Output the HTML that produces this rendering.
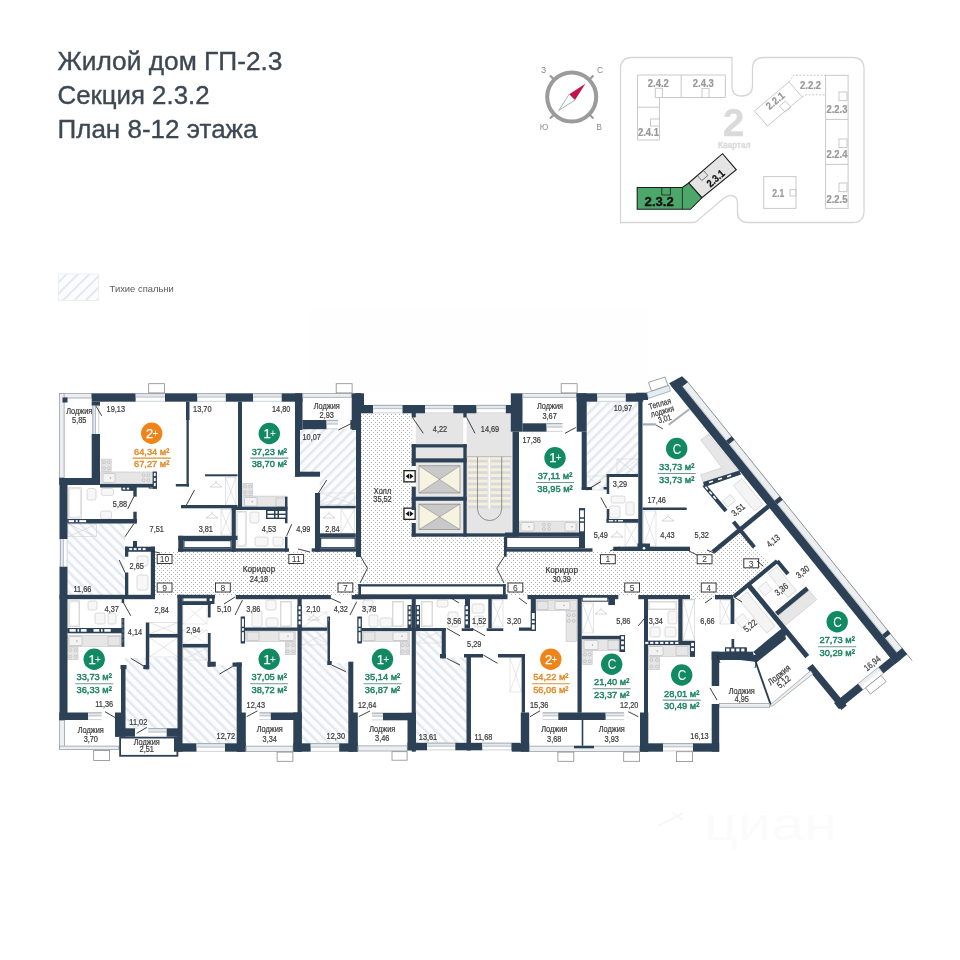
<!DOCTYPE html>
<html><head><meta charset="utf-8"><style>
html,body{margin:0;padding:0;background:#fff;}
body{width:960px;height:960px;overflow:hidden;position:relative;font-family:"Liberation Sans",sans-serif;}
svg{position:absolute;left:0;top:0;will-change:transform;}
.t{font-family:"Liberation Sans",sans-serif;}
</style></head><body>
<svg width="960" height="960" viewBox="0 0 960 960">
<defs>
<pattern id="hatch" patternUnits="userSpaceOnUse" width="8" height="8" patternTransform="rotate(45)">
<rect width="8" height="8" fill="#fbfcfd"/><rect width="2" height="8" fill="#e4e8ec"/>
</pattern>
<pattern id="hatchA" patternUnits="userSpaceOnUse" width="7" height="7" patternTransform="rotate(45)">
<rect width="7" height="7" fill="#fbfcfd"/><rect width="2.4" height="7" fill="#e4e8ed"/>
</pattern>
<pattern id="hatchB" patternUnits="userSpaceOnUse" width="7" height="7" patternTransform="rotate(-45)">
<rect width="7" height="7" fill="#fbfcfd"/><rect width="2.4" height="7" fill="#e4e8ed"/>
</pattern>
<pattern id="dots" patternUnits="userSpaceOnUse" width="4" height="4">
<rect width="4" height="4" fill="#fff"/><rect x="1" y="0" width="1" height="1" fill="#b4b4b4"/><rect x="3" y="2" width="1" height="1" fill="#b4b4b4"/>
</pattern>
</defs>
<!-- title -->
<g class="t" fill="#3d4853" stroke="#3d4853" stroke-width="0.35" font-size="25">
<text x="57.5" y="70" textLength="225" lengthAdjust="spacingAndGlyphs">Жилой дом ГП-2.3</text>
<text x="57.5" y="104" textLength="152" lengthAdjust="spacingAndGlyphs">Секция 2.3.2</text>
<text x="57.5" y="137.5" textLength="200" lengthAdjust="spacingAndGlyphs">План 8-12 этажа</text>
</g>
<!-- legend -->
<rect x="58.3" y="274" width="40.4" height="26.5" fill="url(#hatch)" stroke="#e8ecef" stroke-width="0.8"/>
<text class="t" x="109.6" y="292.3" font-size="9.6" fill="#5a5a5a" textLength="64.2" lengthAdjust="spacingAndGlyphs">Тихие спальни</text>
<!-- compass -->
<g>
<circle cx="571.7" cy="97" r="24.5" fill="none" stroke="#9b9b9b" stroke-width="4"/>
<g stroke="#9b9b9b" stroke-width="2.2">
<line x1="550" y1="75.5" x2="553.5" y2="79"/><line x1="593.4" y1="75.5" x2="589.9" y2="79"/>
<line x1="550" y1="118.5" x2="553.5" y2="115"/><line x1="593.4" y1="118.5" x2="589.9" y2="115"/>
</g>
<polygon points="585.4,83.75 569.2,94.2 575,100" fill="#c8104a"/>
<polygon points="569.2,94.2 575,100 558.75,110.4" fill="#fff" stroke="#8a9a9a" stroke-width="0.8"/>
<g class="t" font-size="8.5" fill="#8c8c8c" text-anchor="middle">
<text x="543.5" y="73">З</text><text x="600" y="73">С</text><text x="544" y="130">Ю</text><text x="599" y="129.5">В</text>
</g>
</g>
<!-- minimap -->
<g fill="none" stroke="#d6d6d6" stroke-width="1.3">
<path d="M620.5,69 Q620.5,57.5 632,57.5 L732,57.5 L732,86 Q732,96 741,96 Q752.5,96 752.5,86 L752.5,69 Q752.5,57.5 764,57.5 L853,57.5 Q864,57.5 864,69 L864,211 Q864,222.5 853,222.5 L748,222.5 Q737.5,222.5 737.5,212 L737.5,203 Q737.5,195.5 730.5,195.5 Q727,195.5 724,198 L697,221 Q695.5,222.5 693,222.5 L620.5,222.5 Z"/>
</g>
<g fill="none" stroke="#c9c9c9" stroke-width="1">
<path d="M637.5,75 L725.3,75 L725.3,97.5 L659.5,97.5 L659.5,140 L637.5,140 Z"/>
<path d="M681.2,75 V97.5 M637.5,107.2 H659.5"/>
<rect x="655.3" y="88.3" width="7.1" height="9.2"/><rect x="702" y="88.4" width="7" height="9.1"/><rect x="650.5" y="119" width="9" height="7"/>
<polygon points="754.4,111 789,82 802.2,96.9 767.5,126" fill="#fff"/>
<polygon points="779.5,106 785.5,101 791,107 785,112"/>
<rect x="825.6" y="75.3" width="22.5" height="133.1"/>
<path d="M825.6,119.4 H848.1 M825.6,164.4 H848.1"/>
<rect x="839" y="92" width="8" height="8.6"/><rect x="839" y="139" width="8" height="8.5"/><rect x="839" y="183" width="8" height="8.6"/>
<rect x="763.75" y="176.6" width="32.25" height="31.8"/>
<rect x="790" y="189.7" width="6" height="6.3"/>
<path d="M789,82 L793.75,75.3 H825.6 M802.2,96.9 L806,94.8 H825.6" stroke-dasharray="2,1.5"/>
</g>
<g class="t" font-weight="bold" fill="#989898" stroke="#989898" stroke-width="0.22" font-size="10.5" text-anchor="middle">
<text x="658.3" y="86.7" textLength="21" lengthAdjust="spacingAndGlyphs">2.4.2</text>
<text x="703.3" y="86.7" textLength="21" lengthAdjust="spacingAndGlyphs">2.4.3</text>
<text x="648.4" y="136.3" textLength="21" lengthAdjust="spacingAndGlyphs">2.4.1</text>
<text x="810.6" y="88.5" textLength="21" lengthAdjust="spacingAndGlyphs">2.2.2</text>
<text x="836.9" y="113.4" textLength="21" lengthAdjust="spacingAndGlyphs">2.2.3</text>
<text x="836.9" y="158.4" textLength="21" lengthAdjust="spacingAndGlyphs">2.2.4</text>
<text x="836.9" y="202.8" textLength="21" lengthAdjust="spacingAndGlyphs">2.2.5</text>
<text x="778.3" y="196.8" textLength="12" lengthAdjust="spacingAndGlyphs">2.1</text>
<text transform="translate(775,100.6) rotate(-40)" y="3.8" textLength="21" lengthAdjust="spacingAndGlyphs">2.2.1</text>
</g>
<g class="t" font-weight="bold" fill="#dadada" stroke="#dadada" stroke-width="0.3" text-anchor="middle">
<text x="733.7" y="136" font-size="39">2</text>
<text x="734.3" y="147.6" font-size="8.2" textLength="32.5" lengthAdjust="spacingAndGlyphs">Квартал</text>
</g>
<polygon points="688.7,183 722.5,153.7 736.3,169.8 701.9,197.8" fill="#e4e4e4" stroke="#1e1e1e" stroke-width="1.1"/>
<polygon points="697.4,175.7 703.5,170.5 707.8,175.5 701.9,180.5" fill="none" stroke="#444" stroke-width="0.7"/>
<polygon points="637.2,187.5 682.4,187.5 688.7,183 701.9,197.8 690.4,209.3 637.2,209.3" fill="#4da66a" stroke="#1e1e1e" stroke-width="1.1"/>
<path d="M682.4,187.5 V209.3 M661.8,187.5 V195 H670.4 V187.5" fill="none" stroke="#1e1e1e" stroke-width="0.8"/>
<text class="t" x="659.2" y="205.9" font-size="12.8" font-weight="bold" fill="#111" stroke="#111" stroke-width="0.35" text-anchor="middle" textLength="29.2" lengthAdjust="spacingAndGlyphs">2.3.2</text>
<text class="t" transform="translate(715.6,178.4) rotate(-41)" y="3.6" font-size="10.5" font-weight="bold" fill="#111" stroke="#111" stroke-width="0.25" text-anchor="middle" textLength="20" lengthAdjust="spacingAndGlyphs">2.3.1</text>
<rect x="309.0" y="309.0" width="340.0" height="83.0" fill="#fefefe" />
<rect x="300.0" y="429.0" width="56.0" height="47.0" fill="url(#hatchA)" />
<rect x="319.6" y="475.0" width="36.4" height="31.0" fill="url(#hatchA)" />
<rect x="586.7" y="401.7" width="51.6" height="72.8" fill="url(#hatchA)" />
<rect x="586.7" y="474.0" width="20.0" height="16.0" fill="url(#hatchA)" />
<rect x="67.5" y="523.0" width="57.5" height="72.0" fill="url(#hatchB)" />
<rect x="125.0" y="658.0" width="53.0" height="71.0" fill="url(#hatchB)" />
<rect x="182.5" y="647.5" width="27.5" height="95.5" fill="url(#hatchB)" />
<rect x="209.0" y="665.0" width="29.0" height="78.0" fill="url(#hatchB)" />
<rect x="301.7" y="631.0" width="28.3" height="112.0" fill="url(#hatchB)" />
<rect x="329.0" y="663.0" width="20.0" height="80.0" fill="url(#hatchB)" />
<rect x="415.8" y="631.0" width="25.9" height="27.0" fill="url(#hatchB)" />
<rect x="415.8" y="657.5" width="50.9" height="85.5" fill="url(#hatchB)" />
<rect x="155.0" y="551.7" width="203.3" height="43.3" fill="url(#dots)" />
<rect x="360.8" y="413.3" width="50.9" height="170.9" fill="url(#dots)" />
<rect x="360.8" y="536.7" width="144.2" height="47.5" fill="url(#dots)" />
<rect x="505.0" y="551.7" width="237.0" height="43.3" fill="url(#dots)" />
<polygon points="690.0,551.0 712.0,551.0 740.0,532.0 770.0,563.0 742.0,595.0 690.0,595.0" fill="url(#dots)" />
<rect x="415.8" y="413.3" width="47.5" height="30.9" fill="#e5e5e5" />
<rect x="466.7" y="413.3" width="45.0" height="120.0" fill="#e5e5e5" />
<rect x="415.8" y="447.5" width="47.5" height="10.8" fill="#e5e5e5" />
<rect x="468.0" y="456.9" width="19.5" height="2.9" fill="#f4f0dc" />
<rect x="491.0" y="456.9" width="19.5" height="2.9" fill="#f4f0dc" />
<rect x="468.0" y="459.8" width="19.5" height="2.8" fill="#d9d9d9" />
<rect x="491.0" y="459.8" width="19.5" height="2.8" fill="#d9d9d9" />
<rect x="468.0" y="462.6" width="19.5" height="2.9" fill="#f4f0dc" />
<rect x="491.0" y="462.6" width="19.5" height="2.9" fill="#f4f0dc" />
<rect x="468.0" y="465.5" width="19.5" height="2.8" fill="#d9d9d9" />
<rect x="491.0" y="465.5" width="19.5" height="2.8" fill="#d9d9d9" />
<rect x="468.0" y="468.4" width="19.5" height="2.9" fill="#f4f0dc" />
<rect x="491.0" y="468.4" width="19.5" height="2.9" fill="#f4f0dc" />
<rect x="468.0" y="471.3" width="19.5" height="2.8" fill="#d9d9d9" />
<rect x="491.0" y="471.3" width="19.5" height="2.8" fill="#d9d9d9" />
<rect x="468.0" y="474.1" width="19.5" height="2.9" fill="#f4f0dc" />
<rect x="491.0" y="474.1" width="19.5" height="2.9" fill="#f4f0dc" />
<rect x="468.0" y="477.0" width="19.5" height="2.8" fill="#d9d9d9" />
<rect x="491.0" y="477.0" width="19.5" height="2.8" fill="#d9d9d9" />
<rect x="468.0" y="479.8" width="19.5" height="2.9" fill="#f4f0dc" />
<rect x="491.0" y="479.8" width="19.5" height="2.9" fill="#f4f0dc" />
<rect x="468.0" y="482.7" width="19.5" height="2.8" fill="#d9d9d9" />
<rect x="491.0" y="482.7" width="19.5" height="2.8" fill="#d9d9d9" />
<rect x="468.0" y="485.5" width="19.5" height="2.9" fill="#f4f0dc" />
<rect x="491.0" y="485.5" width="19.5" height="2.9" fill="#f4f0dc" />
<rect x="468.0" y="488.4" width="19.5" height="2.8" fill="#d9d9d9" />
<rect x="491.0" y="488.4" width="19.5" height="2.8" fill="#d9d9d9" />
<rect x="468.0" y="491.3" width="19.5" height="2.9" fill="#f4f0dc" />
<rect x="491.0" y="491.3" width="19.5" height="2.9" fill="#f4f0dc" />
<rect x="468.0" y="494.2" width="19.5" height="2.8" fill="#d9d9d9" />
<rect x="491.0" y="494.2" width="19.5" height="2.8" fill="#d9d9d9" />
<rect x="468.0" y="497.0" width="19.5" height="2.9" fill="#f4f0dc" />
<rect x="491.0" y="497.0" width="19.5" height="2.9" fill="#f4f0dc" />
<rect x="468.0" y="499.9" width="19.5" height="2.8" fill="#d9d9d9" />
<rect x="491.0" y="499.9" width="19.5" height="2.8" fill="#d9d9d9" />
<rect x="468.0" y="502.7" width="19.5" height="2.9" fill="#f4f0dc" />
<rect x="491.0" y="502.7" width="19.5" height="2.9" fill="#f4f0dc" />
<rect x="468.0" y="505.6" width="19.5" height="2.8" fill="#d9d9d9" />
<rect x="491.0" y="505.6" width="19.5" height="2.8" fill="#d9d9d9" />
<line x1="489.2" y1="456.7" x2="489.2" y2="508.5" stroke="#fff" stroke-width="1.2" />
<line x1="477.5" y1="456.7" x2="477.5" y2="508.5" stroke="#555" stroke-width="0.6" />
<line x1="501.7" y1="456.7" x2="501.7" y2="508.5" stroke="#555" stroke-width="0.6" />
<path d="M477.5,508.5 A12.1,12.1 0 0 0 501.7,508.5" fill="none" stroke="#555" stroke-width="0.6"/>
<line x1="466.7" y1="456.7" x2="511.7" y2="456.7" stroke="#999" stroke-width="0.6" />
<rect x="415.8" y="462.5" width="47.5" height="34.2" fill="#e8e8e8" />
<polygon points="419.0,465.8 460.0,465.8 439.5,479.4" fill="#c9c9c9" />
<polygon points="419.0,493.0 460.0,493.0 439.5,479.4" fill="#c9c9c9" />
<polygon points="419.0,465.8 419.0,493.0 439.5,479.4" fill="#f6f3e0" />
<polygon points="460.0,465.8 460.0,493.0 439.5,479.4" fill="#f6f3e0" />
<rect x="419" y="465.8" width="41" height="27.19999999999999" fill="none" stroke="#777" stroke-width="0.6"/>
<line x1="419.0" y1="465.8" x2="460.0" y2="493.0" stroke="#777" stroke-width="0.5" />
<line x1="419.0" y1="493.0" x2="460.0" y2="465.8" stroke="#777" stroke-width="0.5" />
<rect x="415.8" y="500.8" width="47.5" height="32.5" fill="#e8e8e8" />
<polygon points="419.0,504.1 460.0,504.1 439.5,516.8" fill="#c9c9c9" />
<polygon points="419.0,529.6 460.0,529.6 439.5,516.8" fill="#c9c9c9" />
<polygon points="419.0,504.1 419.0,529.6 439.5,516.8" fill="#f6f3e0" />
<polygon points="460.0,504.1 460.0,529.6 439.5,516.8" fill="#f6f3e0" />
<rect x="419" y="504.1" width="41" height="25.499999999999886" fill="none" stroke="#777" stroke-width="0.6"/>
<line x1="419.0" y1="504.1" x2="460.0" y2="529.6" stroke="#777" stroke-width="0.5" />
<line x1="419.0" y1="529.6" x2="460.0" y2="504.1" stroke="#777" stroke-width="0.5" />
<rect x="403.95" y="470.65" width="11.20" height="11.20" fill="#fff" stroke="#222" stroke-width="1.3"/>
<polygon points="405.6,476.2 409.2,473.4 409.2,479.1" fill="#111" />
<polygon points="413.5,476.2 409.9,473.4 409.9,479.1" fill="#111" />
<rect x="403.95" y="508.15" width="11.20" height="11.20" fill="#fff" stroke="#222" stroke-width="1.3"/>
<polygon points="405.6,513.8 409.2,510.9 409.2,516.6" fill="#111" />
<polygon points="413.5,513.8 409.9,510.9 409.9,516.6" fill="#111" />
<rect x="101.60" y="459.10" width="9.60" height="12.30" fill="#e6e6e6" stroke="#c4c4c4" stroke-width="0.6"/>
<rect x="100.90" y="472.00" width="52.20" height="11.70" fill="#e6e6e6" stroke="#c4c4c4" stroke-width="0.6"/>
<rect x="153.30" y="472.20" width="3.00" height="15.90" fill="#fff" stroke="#2d4156" stroke-width="1"/>
<rect x="149.20" y="485.00" width="7.10" height="3.10" fill="#fff" stroke="#2d4156" stroke-width="1"/>
<rect x="68.40" y="487.80" width="13.00" height="30.30" fill="#f2f2f2" stroke="#c8c8c8" stroke-width="0.6"/>
<rect x="69.3" y="488.7" width="11.2" height="28.5" rx="2.5" fill="#fff" stroke="#d0d0d0" stroke-width="0.5"/>
<rect x="87.0" y="488.5" width="9.0" height="11.5" rx="2" fill="#f7f7f7" stroke="#c8c8c8" stroke-width="0.6"/>
<rect x="101.3" y="488.5" width="12.2" height="6.9" rx="2" fill="#f7f7f7" stroke="#c8c8c8" stroke-width="0.6"/>
<rect x="100.6" y="511.0" width="10.9" height="8.0" rx="2" fill="#f7f7f7" stroke="#c8c8c8" stroke-width="0.6"/>
<rect x="122.10" y="487.10" width="11.20" height="3.00" fill="#fff" stroke="#2d4156" stroke-width="1"/>
<rect x="68.0" y="524.0" width="28.6" height="12.7" fill="none" stroke="#c9c9c9" stroke-width="0.5"/>
<line x1="68.0" y1="524.0" x2="96.6" y2="536.7" stroke="#c9c9c9" stroke-width="0.5" />
<line x1="68.0" y1="536.7" x2="96.6" y2="524.0" stroke="#c9c9c9" stroke-width="0.5" />
<rect x="137.0" y="556.0" width="11.0" height="10.0" rx="2" fill="#f7f7f7" stroke="#c8c8c8" stroke-width="0.6"/>
<rect x="137.0" y="575.0" width="11.0" height="15.0" rx="2" fill="#f7f7f7" stroke="#c8c8c8" stroke-width="0.6"/>
<rect x="205.0" y="474.3" width="32.5" height="2.0" fill="#2d4156" />
<rect x="225.5" y="477.5" width="10.5" height="27.5" fill="none" stroke="#c9c9c9" stroke-width="0.5"/>
<line x1="225.5" y1="477.5" x2="236.0" y2="505.0" stroke="#c9c9c9" stroke-width="0.5" />
<line x1="225.5" y1="505.0" x2="236.0" y2="477.5" stroke="#c9c9c9" stroke-width="0.5" />
<path d="M210.0,487.0 L216.0,482.5 L222.0,487.0 Z M216.0,482.5 v-2" fill="none" stroke="#bdbdbd" stroke-width="0.6"/>
<rect x="221.0" y="509.5" width="10.0" height="25.5" fill="none" stroke="#c9c9c9" stroke-width="0.5"/>
<line x1="221.0" y1="509.5" x2="231.0" y2="535.0" stroke="#c9c9c9" stroke-width="0.5" />
<line x1="221.0" y1="535.0" x2="231.0" y2="509.5" stroke="#c9c9c9" stroke-width="0.5" />
<path d="M206.0,518.0 L212.0,513.5 L218.0,518.0 Z M212.0,513.5 v-2" fill="none" stroke="#bdbdbd" stroke-width="0.6"/>
<rect x="242.80" y="483.30" width="9.90" height="12.20" fill="#e6e6e6" stroke="#c4c4c4" stroke-width="0.6"/>
<rect x="242.80" y="496.10" width="43.60" height="11.10" fill="#e6e6e6" stroke="#c4c4c4" stroke-width="0.6"/>
<rect x="236.80" y="511.30" width="9.40" height="34.90" fill="#f2f2f2" stroke="#c8c8c8" stroke-width="0.6"/>
<rect x="237.7" y="512.2" width="7.6" height="33.1" rx="2.5" fill="#fff" stroke="#d0d0d0" stroke-width="0.5"/>
<rect x="250.0" y="512.0" width="9.0" height="11.0" rx="2" fill="#f7f7f7" stroke="#c8c8c8" stroke-width="0.6"/>
<rect x="255.0" y="537.0" width="13.0" height="9.0" rx="2" fill="#f7f7f7" stroke="#c8c8c8" stroke-width="0.6"/>
<rect x="273.0" y="537.0" width="10.0" height="9.0" rx="2" fill="#f7f7f7" stroke="#c8c8c8" stroke-width="0.6"/>
<rect x="266.60" y="508.60" width="18.80" height="6.30" fill="#fff" stroke="#2d4156" stroke-width="1.2"/>
<rect x="266.0" y="510.8" width="20.0" height="1.4" fill="#2d4156" />
<rect x="341.0" y="509.0" width="13.5" height="24.0" fill="none" stroke="#c9c9c9" stroke-width="0.5"/>
<line x1="341.0" y1="509.0" x2="354.5" y2="533.0" stroke="#c9c9c9" stroke-width="0.5" />
<line x1="341.0" y1="533.0" x2="354.5" y2="509.0" stroke="#c9c9c9" stroke-width="0.5" />
<path d="M323.0,518.0 L329.0,513.5 L335.0,518.0 Z M329.0,513.5 v-2" fill="none" stroke="#bdbdbd" stroke-width="0.6"/>
<rect x="320.5" y="493.0" width="34.0" height="11.5" fill="none" stroke="#d3d3d3" stroke-width="0.5"/>
<line x1="320.5" y1="493.0" x2="354.5" y2="504.5" stroke="#d3d3d3" stroke-width="0.5" />
<line x1="320.5" y1="504.5" x2="354.5" y2="493.0" stroke="#d3d3d3" stroke-width="0.5" />
<rect x="519.50" y="521.10" width="58.50" height="11.10" fill="#e6e6e6" stroke="#c4c4c4" stroke-width="0.6"/>
<rect x="580.60" y="509.60" width="3.80" height="21.80" fill="#fff" stroke="#2d4156" stroke-width="1.2"/>
<rect x="611.0" y="496.0" width="14.0" height="7.0" rx="2" fill="#f7f7f7" stroke="#c8c8c8" stroke-width="0.6"/>
<rect x="626.0" y="502.0" width="8.0" height="13.0" rx="2" fill="#f7f7f7" stroke="#c8c8c8" stroke-width="0.6"/>
<rect x="609.5" y="506.0" width="10.5" height="12.0" rx="2" fill="#f7f7f7" stroke="#c8c8c8" stroke-width="0.6"/>
<rect x="617.0" y="459.0" width="21.0" height="16.0" fill="none" stroke="#c9c9c9" stroke-width="0.5"/>
<line x1="617.0" y1="459.0" x2="638.0" y2="475.0" stroke="#c9c9c9" stroke-width="0.5" />
<line x1="617.0" y1="475.0" x2="638.0" y2="459.0" stroke="#c9c9c9" stroke-width="0.5" />
<rect x="586.7" y="476.0" width="19.3" height="14.0" fill="none" stroke="#d3d3d3" stroke-width="0.5"/>
<line x1="586.7" y1="476.0" x2="606.0" y2="490.0" stroke="#d3d3d3" stroke-width="0.5" />
<line x1="586.7" y1="490.0" x2="606.0" y2="476.0" stroke="#d3d3d3" stroke-width="0.5" />
<rect x="625.0" y="523.0" width="13.0" height="23.5" fill="none" stroke="#c9c9c9" stroke-width="0.5"/>
<line x1="625.0" y1="523.0" x2="638.0" y2="546.5" stroke="#c9c9c9" stroke-width="0.5" />
<line x1="625.0" y1="546.5" x2="638.0" y2="523.0" stroke="#c9c9c9" stroke-width="0.5" />
<path d="M611.0,537.0 L617.0,532.5 L623.0,537.0 Z M617.0,532.5 v-2" fill="none" stroke="#bdbdbd" stroke-width="0.6"/>
<rect x="643.5" y="511.0" width="12.5" height="35.0" fill="none" stroke="#c9c9c9" stroke-width="0.5"/>
<line x1="643.5" y1="511.0" x2="656.0" y2="546.0" stroke="#c9c9c9" stroke-width="0.5" />
<line x1="643.5" y1="546.0" x2="656.0" y2="511.0" stroke="#c9c9c9" stroke-width="0.5" />
<path d="M662.0,521.0 L668.0,516.5 L674.0,521.0 Z M668.0,516.5 v-2" fill="none" stroke="#bdbdbd" stroke-width="0.6"/>
<rect x="68.80" y="600.80" width="10.90" height="25.90" fill="#f2f2f2" stroke="#c8c8c8" stroke-width="0.6"/>
<rect x="69.7" y="601.7" width="9.1" height="24.1" rx="2.5" fill="#fff" stroke="#d0d0d0" stroke-width="0.5"/>
<rect x="88.0" y="601.0" width="9.0" height="9.0" rx="2" fill="#f7f7f7" stroke="#c8c8c8" stroke-width="0.6"/>
<rect x="95.0" y="613.0" width="10.0" height="11.0" rx="2" fill="#f7f7f7" stroke="#c8c8c8" stroke-width="0.6"/>
<rect x="108.0" y="613.0" width="8.0" height="11.0" rx="2" fill="#f7f7f7" stroke="#c8c8c8" stroke-width="0.6"/>
<rect x="67.80" y="635.30" width="53.60" height="11.10" fill="#e6e6e6" stroke="#c4c4c4" stroke-width="0.6"/>
<rect x="67.80" y="647.00" width="10.20" height="12.70" fill="#e6e6e6" stroke="#c4c4c4" stroke-width="0.6"/>
<rect x="149.5" y="622.5" width="28.5" height="11.5" fill="none" stroke="#c9c9c9" stroke-width="0.5"/>
<line x1="149.5" y1="622.5" x2="178.0" y2="634.0" stroke="#c9c9c9" stroke-width="0.5" />
<line x1="149.5" y1="634.0" x2="178.0" y2="622.5" stroke="#c9c9c9" stroke-width="0.5" />
<rect x="149.5" y="637.5" width="28.5" height="19.5" fill="none" stroke="#c9c9c9" stroke-width="0.5"/>
<line x1="149.5" y1="637.5" x2="178.0" y2="657.0" stroke="#c9c9c9" stroke-width="0.5" />
<line x1="149.5" y1="657.0" x2="178.0" y2="637.5" stroke="#c9c9c9" stroke-width="0.5" />
<rect x="183.0" y="602.5" width="24.0" height="21.5" fill="none" stroke="#d3d3d3" stroke-width="0.5"/>
<line x1="183.0" y1="602.5" x2="207.0" y2="624.0" stroke="#d3d3d3" stroke-width="0.5" />
<line x1="183.0" y1="624.0" x2="207.0" y2="602.5" stroke="#d3d3d3" stroke-width="0.5" />
<rect x="183.0" y="630.0" width="24.0" height="13.5" fill="none" stroke="#d3d3d3" stroke-width="0.5"/>
<line x1="183.0" y1="630.0" x2="207.0" y2="643.5" stroke="#d3d3d3" stroke-width="0.5" />
<line x1="183.0" y1="643.5" x2="207.0" y2="630.0" stroke="#d3d3d3" stroke-width="0.5" />
<rect x="183.0" y="648.0" width="24.0" height="12.0" fill="none" stroke="#d3d3d3" stroke-width="0.5"/>
<line x1="183.0" y1="648.0" x2="207.0" y2="660.0" stroke="#d3d3d3" stroke-width="0.5" />
<line x1="183.0" y1="660.0" x2="207.0" y2="648.0" stroke="#d3d3d3" stroke-width="0.5" />
<rect x="266.0" y="600.0" width="10.0" height="10.0" rx="2" fill="#f7f7f7" stroke="#c8c8c8" stroke-width="0.6"/>
<rect x="280.30" y="601.30" width="11.40" height="25.40" fill="#f2f2f2" stroke="#c8c8c8" stroke-width="0.6"/>
<rect x="281.2" y="602.2" width="9.6" height="23.6" rx="2.5" fill="#fff" stroke="#d0d0d0" stroke-width="0.5"/>
<rect x="252.0" y="611.0" width="10.0" height="16.0" rx="2" fill="#f7f7f7" stroke="#c8c8c8" stroke-width="0.6"/>
<rect x="266.0" y="618.0" width="12.0" height="9.0" rx="2" fill="#f7f7f7" stroke="#c8c8c8" stroke-width="0.6"/>
<rect x="245.30" y="631.10" width="50.20" height="10.30" fill="#e6e6e6" stroke="#c4c4c4" stroke-width="0.6"/>
<rect x="285.30" y="642.00" width="10.20" height="12.70" fill="#e6e6e6" stroke="#c4c4c4" stroke-width="0.6"/>
<rect x="302.0" y="612.0" width="25.0" height="15.0" fill="none" stroke="#d3d3d3" stroke-width="0.5"/>
<line x1="302.0" y1="612.0" x2="327.0" y2="627.0" stroke="#d3d3d3" stroke-width="0.5" />
<line x1="302.0" y1="627.0" x2="327.0" y2="612.0" stroke="#d3d3d3" stroke-width="0.5" />
<path d="M307.5,620.0 L313.5,615.5 L319.5,620.0 Z M313.5,615.5 v-2" fill="none" stroke="#bdbdbd" stroke-width="0.6"/>
<rect x="302.0" y="631.0" width="28.0" height="14.0" fill="none" stroke="#d3d3d3" stroke-width="0.5"/>
<line x1="302.0" y1="631.0" x2="330.0" y2="645.0" stroke="#d3d3d3" stroke-width="0.5" />
<line x1="302.0" y1="645.0" x2="330.0" y2="631.0" stroke="#d3d3d3" stroke-width="0.5" />
<rect x="363.0" y="600.0" width="10.0" height="10.0" rx="2" fill="#f7f7f7" stroke="#c8c8c8" stroke-width="0.6"/>
<rect x="392.30" y="601.30" width="11.40" height="25.40" fill="#f2f2f2" stroke="#c8c8c8" stroke-width="0.6"/>
<rect x="393.2" y="602.2" width="9.6" height="23.6" rx="2.5" fill="#fff" stroke="#d0d0d0" stroke-width="0.5"/>
<rect x="369.0" y="615.0" width="9.0" height="12.0" rx="2" fill="#f7f7f7" stroke="#c8c8c8" stroke-width="0.6"/>
<rect x="380.0" y="618.0" width="12.0" height="9.0" rx="2" fill="#f7f7f7" stroke="#c8c8c8" stroke-width="0.6"/>
<rect x="362.00" y="631.30" width="47.70" height="10.10" fill="#e6e6e6" stroke="#c4c4c4" stroke-width="0.6"/>
<rect x="400.30" y="642.00" width="9.40" height="12.70" fill="#e6e6e6" stroke="#c4c4c4" stroke-width="0.6"/>
<rect x="421.30" y="601.30" width="11.40" height="25.40" fill="#f2f2f2" stroke="#c8c8c8" stroke-width="0.6"/>
<rect x="422.2" y="602.2" width="9.6" height="23.6" rx="2.5" fill="#fff" stroke="#d0d0d0" stroke-width="0.5"/>
<rect x="437.0" y="600.0" width="11.0" height="7.0" rx="2" fill="#f7f7f7" stroke="#c8c8c8" stroke-width="0.6"/>
<rect x="448.0" y="612.0" width="10.0" height="15.0" rx="2" fill="#f7f7f7" stroke="#c8c8c8" stroke-width="0.6"/>
<rect x="472.0" y="604.0" width="12.0" height="9.0" rx="2" fill="#f7f7f7" stroke="#c8c8c8" stroke-width="0.6"/>
<rect x="474.0" y="616.0" width="10.0" height="11.0" rx="2" fill="#f7f7f7" stroke="#c8c8c8" stroke-width="0.6"/>
<rect x="492.0" y="600.0" width="11.0" height="27.0" fill="none" stroke="#c9c9c9" stroke-width="0.5"/>
<line x1="492.0" y1="600.0" x2="503.0" y2="627.0" stroke="#c9c9c9" stroke-width="0.5" />
<line x1="492.0" y1="627.0" x2="503.0" y2="600.0" stroke="#c9c9c9" stroke-width="0.5" />
<rect x="416.0" y="631.0" width="25.0" height="12.0" fill="none" stroke="#d3d3d3" stroke-width="0.5"/>
<line x1="416.0" y1="631.0" x2="441.0" y2="643.0" stroke="#d3d3d3" stroke-width="0.5" />
<line x1="416.0" y1="643.0" x2="441.0" y2="631.0" stroke="#d3d3d3" stroke-width="0.5" />
<rect x="510.0" y="658.0" width="11.5" height="34.0" fill="none" stroke="#d3d3d3" stroke-width="0.5"/>
<line x1="510.0" y1="658.0" x2="521.5" y2="692.0" stroke="#d3d3d3" stroke-width="0.5" />
<line x1="510.0" y1="692.0" x2="521.5" y2="658.0" stroke="#d3d3d3" stroke-width="0.5" />
<rect x="535.30" y="600.30" width="41.10" height="10.20" fill="#e6e6e6" stroke="#c4c4c4" stroke-width="0.6"/>
<rect x="566.10" y="611.10" width="10.30" height="30.30" fill="#e6e6e6" stroke="#c4c4c4" stroke-width="0.6"/>
<rect x="531.60" y="612.60" width="3.60" height="16.80" fill="#fff" stroke="#2d4156" stroke-width="1.2"/>
<rect x="582.5" y="603.0" width="11.0" height="30.0" fill="none" stroke="#c9c9c9" stroke-width="0.5"/>
<line x1="582.5" y1="603.0" x2="593.5" y2="633.0" stroke="#c9c9c9" stroke-width="0.5" />
<line x1="582.5" y1="633.0" x2="593.5" y2="603.0" stroke="#c9c9c9" stroke-width="0.5" />
<path d="M595.0,614.0 L601.0,609.5 L607.0,614.0 Z M601.0,609.5 v-2" fill="none" stroke="#bdbdbd" stroke-width="0.6"/>
<rect x="582.80" y="639.50" width="36.90" height="11.00" fill="#e6e6e6" stroke="#c4c4c4" stroke-width="0.6"/>
<rect x="582.80" y="651.10" width="9.40" height="13.60" fill="#e6e6e6" stroke="#c4c4c4" stroke-width="0.6"/>
<rect x="620.10" y="636.10" width="4.30" height="15.30" fill="#fff" stroke="#2d4156" stroke-width="1.2"/>
<rect x="648.30" y="601.30" width="28.40" height="8.40" fill="#f2f2f2" stroke="#c8c8c8" stroke-width="0.6"/>
<rect x="649.2" y="602.2" width="26.6" height="6.6" rx="2.5" fill="#fff" stroke="#d0d0d0" stroke-width="0.5"/>
<rect x="668.0" y="611.0" width="9.0" height="13.0" rx="2" fill="#f7f7f7" stroke="#c8c8c8" stroke-width="0.6"/>
<rect x="650.0" y="627.0" width="10.0" height="10.0" rx="2" fill="#f7f7f7" stroke="#c8c8c8" stroke-width="0.6"/>
<rect x="665.0" y="627.0" width="11.0" height="10.0" rx="2" fill="#f7f7f7" stroke="#c8c8c8" stroke-width="0.6"/>
<rect x="683.0" y="600.0" width="11.5" height="40.0" fill="none" stroke="#c9c9c9" stroke-width="0.5"/>
<line x1="683.0" y1="600.0" x2="694.5" y2="640.0" stroke="#c9c9c9" stroke-width="0.5" />
<line x1="683.0" y1="640.0" x2="694.5" y2="600.0" stroke="#c9c9c9" stroke-width="0.5" />
<rect x="647.00" y="645.30" width="42.70" height="11.10" fill="#e6e6e6" stroke="#c4c4c4" stroke-width="0.6"/>
<rect x="648.60" y="657.00" width="11.10" height="12.70" fill="#e6e6e6" stroke="#c4c4c4" stroke-width="0.6"/>
<rect x="720.0" y="600.0" width="11.0" height="24.0" fill="none" stroke="#c9c9c9" stroke-width="0.5"/>
<line x1="720.0" y1="600.0" x2="731.0" y2="624.0" stroke="#c9c9c9" stroke-width="0.5" />
<line x1="720.0" y1="624.0" x2="731.0" y2="600.0" stroke="#c9c9c9" stroke-width="0.5" />
<circle cx="104.0" cy="462.2" r="1.5" fill="none" stroke="#a9a9a9" stroke-width="0.5"/>
<circle cx="104.0" cy="468.3" r="1.5" fill="none" stroke="#a9a9a9" stroke-width="0.5"/>
<circle cx="108.8" cy="462.2" r="1.5" fill="none" stroke="#a9a9a9" stroke-width="0.5"/>
<circle cx="108.8" cy="468.3" r="1.5" fill="none" stroke="#a9a9a9" stroke-width="0.5"/>
<rect x="103.0" y="473.5" width="12.0" height="9.0" rx="1" fill="#f3f3f3" stroke="#a9a9a9" stroke-width="0.5"/>
<circle cx="110.5" cy="478.0" r="0.7" fill="#999"/>
<circle cx="143.6" cy="475.2" r="1.5" fill="none" stroke="#a9a9a9" stroke-width="0.5"/>
<circle cx="143.6" cy="480.2" r="1.5" fill="none" stroke="#a9a9a9" stroke-width="0.5"/>
<circle cx="148.4" cy="475.2" r="1.5" fill="none" stroke="#a9a9a9" stroke-width="0.5"/>
<circle cx="148.4" cy="480.2" r="1.5" fill="none" stroke="#a9a9a9" stroke-width="0.5"/>
<circle cx="245.2" cy="486.4" r="1.5" fill="none" stroke="#a9a9a9" stroke-width="0.5"/>
<circle cx="245.2" cy="492.4" r="1.5" fill="none" stroke="#a9a9a9" stroke-width="0.5"/>
<circle cx="250.2" cy="486.4" r="1.5" fill="none" stroke="#a9a9a9" stroke-width="0.5"/>
<circle cx="250.2" cy="492.4" r="1.5" fill="none" stroke="#a9a9a9" stroke-width="0.5"/>
<rect x="244.5" y="497.5" width="12.5" height="8.5" rx="1" fill="#f3f3f3" stroke="#a9a9a9" stroke-width="0.5"/>
<circle cx="252.2" cy="501.8" r="0.7" fill="#999"/>
<rect x="276.0" y="498.0" width="10.0" height="8.5" fill="none" stroke="#b0b0b0" stroke-width="0.5"/>
<rect x="521.0" y="522.5" width="13.0" height="8.5" rx="1" fill="#f3f3f3" stroke="#a9a9a9" stroke-width="0.5"/>
<circle cx="529.0" cy="526.8" r="0.7" fill="#999"/>
<circle cx="543.9" cy="524.5" r="1.5" fill="none" stroke="#a9a9a9" stroke-width="0.5"/>
<circle cx="543.9" cy="529.0" r="1.5" fill="none" stroke="#a9a9a9" stroke-width="0.5"/>
<circle cx="549.1" cy="524.5" r="1.5" fill="none" stroke="#a9a9a9" stroke-width="0.5"/>
<circle cx="549.1" cy="529.0" r="1.5" fill="none" stroke="#a9a9a9" stroke-width="0.5"/>
<rect x="565.0" y="522.5" width="11.0" height="8.5" rx="1" fill="#f3f3f3" stroke="#a9a9a9" stroke-width="0.5"/>
<circle cx="572.0" cy="526.8" r="0.7" fill="#999"/>
<rect x="69.0" y="636.5" width="13.0" height="9.0" rx="1" fill="#f3f3f3" stroke="#a9a9a9" stroke-width="0.5"/>
<circle cx="77.0" cy="641.0" r="0.7" fill="#999"/>
<circle cx="70.3" cy="650.2" r="1.5" fill="none" stroke="#a9a9a9" stroke-width="0.5"/>
<circle cx="70.3" cy="656.5" r="1.5" fill="none" stroke="#a9a9a9" stroke-width="0.5"/>
<circle cx="75.5" cy="650.2" r="1.5" fill="none" stroke="#a9a9a9" stroke-width="0.5"/>
<circle cx="75.5" cy="656.5" r="1.5" fill="none" stroke="#a9a9a9" stroke-width="0.5"/>
<rect x="108.0" y="636.5" width="12.0" height="9.0" fill="none" stroke="#b0b0b0" stroke-width="0.5"/>
<rect x="279.0" y="632.0" width="15.0" height="8.5" rx="1" fill="#f3f3f3" stroke="#a9a9a9" stroke-width="0.5"/>
<circle cx="288.0" cy="636.2" r="0.7" fill="#999"/>
<circle cx="287.8" cy="645.2" r="1.5" fill="none" stroke="#a9a9a9" stroke-width="0.5"/>
<circle cx="287.8" cy="651.5" r="1.5" fill="none" stroke="#a9a9a9" stroke-width="0.5"/>
<circle cx="293.0" cy="645.2" r="1.5" fill="none" stroke="#a9a9a9" stroke-width="0.5"/>
<circle cx="293.0" cy="651.5" r="1.5" fill="none" stroke="#a9a9a9" stroke-width="0.5"/>
<rect x="247.0" y="632.0" width="12.0" height="8.5" fill="none" stroke="#b0b0b0" stroke-width="0.5"/>
<rect x="393.0" y="632.0" width="15.0" height="8.5" rx="1" fill="#f3f3f3" stroke="#a9a9a9" stroke-width="0.5"/>
<circle cx="402.0" cy="636.2" r="0.7" fill="#999"/>
<circle cx="402.6" cy="645.2" r="1.5" fill="none" stroke="#a9a9a9" stroke-width="0.5"/>
<circle cx="402.6" cy="651.5" r="1.5" fill="none" stroke="#a9a9a9" stroke-width="0.5"/>
<circle cx="407.4" cy="645.2" r="1.5" fill="none" stroke="#a9a9a9" stroke-width="0.5"/>
<circle cx="407.4" cy="651.5" r="1.5" fill="none" stroke="#a9a9a9" stroke-width="0.5"/>
<rect x="363.0" y="632.0" width="12.0" height="8.5" fill="none" stroke="#b0b0b0" stroke-width="0.5"/>
<rect x="555.0" y="601.5" width="15.0" height="8.0" rx="1" fill="#f3f3f3" stroke="#a9a9a9" stroke-width="0.5"/>
<circle cx="564.0" cy="605.5" r="0.7" fill="#999"/>
<circle cx="568.8" cy="615.1" r="1.5" fill="none" stroke="#a9a9a9" stroke-width="0.5"/>
<circle cx="568.8" cy="620.9" r="1.5" fill="none" stroke="#a9a9a9" stroke-width="0.5"/>
<circle cx="573.8" cy="615.1" r="1.5" fill="none" stroke="#a9a9a9" stroke-width="0.5"/>
<circle cx="573.8" cy="620.9" r="1.5" fill="none" stroke="#a9a9a9" stroke-width="0.5"/>
<rect x="537.0" y="601.5" width="11.0" height="8.0" fill="none" stroke="#b0b0b0" stroke-width="0.5"/>
<rect x="584.0" y="640.5" width="14.0" height="9.0" rx="1" fill="#f3f3f3" stroke="#a9a9a9" stroke-width="0.5"/>
<circle cx="592.5" cy="645.0" r="0.7" fill="#999"/>
<circle cx="585.1" cy="654.5" r="1.5" fill="none" stroke="#a9a9a9" stroke-width="0.5"/>
<circle cx="585.1" cy="661.3" r="1.5" fill="none" stroke="#a9a9a9" stroke-width="0.5"/>
<circle cx="589.9" cy="654.5" r="1.5" fill="none" stroke="#a9a9a9" stroke-width="0.5"/>
<circle cx="589.9" cy="661.3" r="1.5" fill="none" stroke="#a9a9a9" stroke-width="0.5"/>
<rect x="608.0" y="640.5" width="11.0" height="9.0" fill="none" stroke="#b0b0b0" stroke-width="0.5"/>
<rect x="648.5" y="646.5" width="14.5" height="9.0" rx="1" fill="#f3f3f3" stroke="#a9a9a9" stroke-width="0.5"/>
<circle cx="657.2" cy="651.0" r="0.7" fill="#999"/>
<circle cx="651.4" cy="660.2" r="1.5" fill="none" stroke="#a9a9a9" stroke-width="0.5"/>
<circle cx="651.4" cy="666.5" r="1.5" fill="none" stroke="#a9a9a9" stroke-width="0.5"/>
<circle cx="656.9" cy="660.2" r="1.5" fill="none" stroke="#a9a9a9" stroke-width="0.5"/>
<circle cx="656.9" cy="666.5" r="1.5" fill="none" stroke="#a9a9a9" stroke-width="0.5"/>
<rect x="676.0" y="646.5" width="12.0" height="9.0" fill="none" stroke="#b0b0b0" stroke-width="0.5"/>
<rect x="59.2" y="393.3" width="32.5" height="5.0" fill="#eceef0" />
<rect x="59.5" y="393.6" width="31.9" height="4.4" fill="none" stroke="#7d8995" stroke-width="0.6"/>
<rect x="59.2" y="393.3" width="5.2" height="84.7" fill="#eceef0" />
<rect x="59.5" y="393.6" width="4.6" height="84.1" fill="none" stroke="#7d8995" stroke-width="0.6"/>
<rect x="62.5" y="397.5" width="5.0" height="5.0" fill="#2d4156" />
<rect x="91.7" y="393.3" width="44.1" height="8.4" fill="#2d4156" />
<rect x="91.7" y="401.7" width="8.3" height="4.1" fill="#2d4156" />
<rect x="135.8" y="393.3" width="29.2" height="8.4" fill="#fff" />
<rect x="135.8" y="393.3" width="29.2" height="3.8" fill="#e4e8ec" />
<line x1="135.8" y1="393.6" x2="165.0" y2="393.6" stroke="#6c7a88" stroke-width="0.6" />
<line x1="135.8" y1="397.1" x2="165.0" y2="397.1" stroke="#8d99a5" stroke-width="0.6" />
<line x1="135.8" y1="401.3" x2="165.0" y2="401.3" stroke="#9aa5b0" stroke-width="0.5" />
<rect x="148.70" y="383.70" width="15.90" height="9.20" fill="#fff" stroke="#8a8a8a" stroke-width="0.8"/>
<rect x="165.0" y="393.3" width="32.5" height="8.4" fill="#2d4156" />
<rect x="197.5" y="393.3" width="28.3" height="8.4" fill="#fff" />
<rect x="197.5" y="393.3" width="28.3" height="3.8" fill="#e4e8ec" />
<line x1="197.5" y1="393.6" x2="225.8" y2="393.6" stroke="#6c7a88" stroke-width="0.6" />
<line x1="197.5" y1="397.1" x2="225.8" y2="397.1" stroke="#8d99a5" stroke-width="0.6" />
<line x1="197.5" y1="401.3" x2="225.8" y2="401.3" stroke="#9aa5b0" stroke-width="0.5" />
<rect x="225.8" y="393.3" width="27.5" height="8.4" fill="#2d4156" />
<rect x="253.3" y="393.3" width="28.4" height="8.4" fill="#fff" />
<rect x="253.3" y="393.3" width="28.4" height="3.8" fill="#e4e8ec" />
<line x1="253.3" y1="393.6" x2="281.7" y2="393.6" stroke="#6c7a88" stroke-width="0.6" />
<line x1="253.3" y1="397.1" x2="281.7" y2="397.1" stroke="#8d99a5" stroke-width="0.6" />
<line x1="253.3" y1="401.3" x2="281.7" y2="401.3" stroke="#9aa5b0" stroke-width="0.5" />
<rect x="281.7" y="393.3" width="20.8" height="8.4" fill="#2d4156" />
<rect x="295.0" y="393.3" width="7.5" height="36.7" fill="#2d4156" />
<rect x="295.0" y="430.0" width="5.0" height="46.7" fill="#2d4156" />
<rect x="302.5" y="393.3" width="49.2" height="4.2" fill="#eceef0" />
<rect x="302.8" y="393.6" width="48.6" height="3.6" fill="none" stroke="#7d8995" stroke-width="0.6"/>
<rect x="336.20" y="383.70" width="15.90" height="9.20" fill="#fff" stroke="#8a8a8a" stroke-width="0.8"/>
<rect x="351.7" y="393.3" width="9.3" height="36.7" fill="#2d4156" />
<rect x="355.0" y="393.3" width="9.0" height="20.0" fill="#2d4156" />
<rect x="356.0" y="393.3" width="5.0" height="163.7" fill="#2d4156" />
<rect x="364.0" y="405.0" width="9.3" height="8.3" fill="#2d4156" />
<rect x="373.3" y="405.0" width="29.2" height="8.3" fill="#fff" />
<rect x="373.3" y="405.0" width="29.2" height="3.7" fill="#e4e8ec" />
<line x1="373.3" y1="405.3" x2="402.5" y2="405.3" stroke="#6c7a88" stroke-width="0.6" />
<line x1="373.3" y1="408.7" x2="402.5" y2="408.7" stroke="#8d99a5" stroke-width="0.6" />
<line x1="373.3" y1="412.9" x2="402.5" y2="412.9" stroke="#9aa5b0" stroke-width="0.5" />
<rect x="402.5" y="405.0" width="22.5" height="8.3" fill="#2d4156" />
<rect x="425.0" y="405.0" width="28.3" height="8.3" fill="#fff" />
<rect x="425.0" y="405.0" width="28.3" height="3.7" fill="#e4e8ec" />
<line x1="425.0" y1="405.3" x2="453.3" y2="405.3" stroke="#6c7a88" stroke-width="0.6" />
<line x1="425.0" y1="408.7" x2="453.3" y2="408.7" stroke="#8d99a5" stroke-width="0.6" />
<line x1="425.0" y1="412.9" x2="453.3" y2="412.9" stroke="#9aa5b0" stroke-width="0.5" />
<rect x="453.3" y="405.0" width="23.4" height="8.3" fill="#2d4156" />
<rect x="476.7" y="405.0" width="29.1" height="8.3" fill="#fff" />
<rect x="476.7" y="405.0" width="29.1" height="3.7" fill="#e4e8ec" />
<line x1="476.7" y1="405.3" x2="505.8" y2="405.3" stroke="#6c7a88" stroke-width="0.6" />
<line x1="476.7" y1="408.7" x2="505.8" y2="408.7" stroke="#8d99a5" stroke-width="0.6" />
<line x1="476.7" y1="412.9" x2="505.8" y2="412.9" stroke="#9aa5b0" stroke-width="0.5" />
<rect x="505.8" y="405.0" width="9.2" height="8.3" fill="#2d4156" />
<rect x="411.7" y="413.0" width="4.1" height="4.5" fill="#2d4156" />
<rect x="463.3" y="413.0" width="3.4" height="4.5" fill="#2d4156" />
<rect x="510.8" y="393.3" width="11.7" height="38.4" fill="#2d4156" />
<rect x="512.5" y="431.7" width="6.5" height="105.0" fill="#2d4156" />
<rect x="522.5" y="393.3" width="54.2" height="4.2" fill="#eceef0" />
<rect x="522.8" y="393.6" width="53.6" height="3.6" fill="none" stroke="#7d8995" stroke-width="0.6"/>
<rect x="561.20" y="383.70" width="15.90" height="9.20" fill="#fff" stroke="#8a8a8a" stroke-width="0.8"/>
<rect x="522.5" y="423.3" width="24.2" height="8.4" fill="#2d4156" />
<rect x="546.7" y="423.3" width="15.8" height="8.4" fill="#fff" />
<rect x="546.7" y="423.3" width="15.8" height="3.8" fill="#e4e8ec" />
<line x1="546.7" y1="423.6" x2="562.5" y2="423.6" stroke="#6c7a88" stroke-width="0.6" />
<line x1="546.7" y1="427.1" x2="562.5" y2="427.1" stroke="#8d99a5" stroke-width="0.6" />
<line x1="546.7" y1="431.3" x2="562.5" y2="431.3" stroke="#9aa5b0" stroke-width="0.5" />
<rect x="576.7" y="393.3" width="20.8" height="8.4" fill="#2d4156" />
<rect x="576.7" y="393.3" width="10.0" height="38.4" fill="#2d4156" />
<rect x="581.7" y="431.7" width="5.0" height="58.3" fill="#2d4156" />
<rect x="597.5" y="393.3" width="28.3" height="8.4" fill="#fff" />
<rect x="597.5" y="393.3" width="28.3" height="3.8" fill="#e4e8ec" />
<line x1="597.5" y1="393.6" x2="625.8" y2="393.6" stroke="#6c7a88" stroke-width="0.6" />
<line x1="597.5" y1="397.1" x2="625.8" y2="397.1" stroke="#8d99a5" stroke-width="0.6" />
<line x1="597.5" y1="401.3" x2="625.8" y2="401.3" stroke="#9aa5b0" stroke-width="0.5" />
<rect x="625.8" y="393.3" width="17.5" height="8.4" fill="#2d4156" />
<rect x="638.3" y="393.3" width="4.2" height="156.7" fill="#2d4156" />
<rect x="636.0" y="392.7" width="12.0" height="7.3" fill="#2d4156" />
<rect x="186.0" y="401.7" width="3.5" height="18.3" fill="#2d4156" />
<rect x="186.5" y="420.0" width="2.3" height="66.5" fill="#2d4156" />
<rect x="175.8" y="484.0" width="13.2" height="2.5" fill="#2d4156" />
<rect x="92.5" y="405.8" width="6.7" height="28.2" fill="#fff" />
<rect x="92.5" y="405.8" width="3.0" height="28.2" fill="#e4e8ec" />
<line x1="92.8" y1="405.8" x2="92.8" y2="434.0" stroke="#6c7a88" stroke-width="0.6" />
<line x1="95.5" y1="405.8" x2="95.5" y2="434.0" stroke="#8d99a5" stroke-width="0.6" />
<line x1="98.8" y1="405.8" x2="98.8" y2="434.0" stroke="#9aa5b0" stroke-width="0.5" />
<rect x="91.7" y="434.0" width="8.3" height="51.0" fill="#2d4156" />
<rect x="59.2" y="478.0" width="40.8" height="7.0" fill="#2d4156" />
<rect x="59.5" y="478.0" width="8.0" height="61.0" fill="#2d4156" />
<rect x="60.0" y="539.0" width="7.5" height="27.7" fill="#fff" />
<rect x="60.0" y="539.0" width="3.4" height="27.7" fill="#e4e8ec" />
<line x1="60.3" y1="539.0" x2="60.3" y2="566.7" stroke="#6c7a88" stroke-width="0.6" />
<line x1="63.4" y1="539.0" x2="63.4" y2="566.7" stroke="#8d99a5" stroke-width="0.6" />
<line x1="67.1" y1="539.0" x2="67.1" y2="566.7" stroke="#9aa5b0" stroke-width="0.5" />
<rect x="59.5" y="566.7" width="8.0" height="153.3" fill="#2d4156" />
<rect x="100.0" y="484.0" width="56.7" height="3.5" fill="#2d4156" />
<rect x="67.5" y="519.0" width="69.2" height="4.3" fill="#2d4156" />
<rect x="133.3" y="484.0" width="3.4" height="12.7" fill="#2d4156" />
<rect x="133.3" y="511.7" width="3.4" height="11.6" fill="#2d4156" />
<rect x="125.0" y="546.7" width="30.0" height="5.0" fill="#2d4156" />
<rect x="125.0" y="546.7" width="3.3" height="10.0" fill="#2d4156" />
<rect x="125.0" y="572.5" width="3.3" height="22.5" fill="#2d4156" />
<rect x="150.8" y="546.7" width="4.2" height="48.3" fill="#2d4156" />
<rect x="181.0" y="505.0" width="56.5" height="3.3" fill="#2d4156" />
<rect x="178.3" y="535.8" width="59.2" height="4.2" fill="#2d4156" />
<rect x="183.90" y="540.60" width="47.20" height="7.10" fill="#fff" stroke="#2d4156" stroke-width="1.2"/>
<rect x="178.3" y="535.8" width="5.0" height="15.9" fill="#2d4156" />
<rect x="178.0" y="548.3" width="111.0" height="3.4" fill="#2d4156" />
<rect x="311.7" y="548.3" width="46.6" height="3.4" fill="#2d4156" />
<rect x="238.0" y="401.7" width="4.0" height="105.3" fill="#2d4156" />
<rect x="231.7" y="506.7" width="4.1" height="45.0" fill="#2d4156" />
<rect x="231.7" y="506.7" width="55.8" height="3.3" fill="#2d4156" />
<rect x="285.0" y="496.7" width="2.5" height="26.6" fill="#2d4156" />
<rect x="285.0" y="536.7" width="2.5" height="15.0" fill="#2d4156" />
<rect x="295.0" y="471.7" width="25.0" height="5.0" fill="#2d4156" />
<rect x="302.5" y="420.0" width="24.2" height="9.2" fill="#2d4156" />
<rect x="326.7" y="420.0" width="11.3" height="9.2" fill="#fff" />
<rect x="326.7" y="420.0" width="11.3" height="4.1" fill="#e4e8ec" />
<line x1="326.7" y1="420.3" x2="338.0" y2="420.3" stroke="#6c7a88" stroke-width="0.6" />
<line x1="326.7" y1="424.1" x2="338.0" y2="424.1" stroke="#8d99a5" stroke-width="0.6" />
<line x1="326.7" y1="428.8" x2="338.0" y2="428.8" stroke="#9aa5b0" stroke-width="0.5" />
<rect x="350.4" y="420.0" width="1.6" height="9.2" fill="#2d4156" />
<rect x="315.0" y="505.8" width="40.8" height="2.5" fill="#2d4156" />
<rect x="315.0" y="533.3" width="40.8" height="4.2" fill="#2d4156" />
<rect x="320.60" y="538.10" width="34.60" height="9.60" fill="#fff" stroke="#2d4156" stroke-width="1.2"/>
<rect x="315.0" y="493.0" width="5.0" height="58.7" fill="#2d4156" />
<rect x="411.7" y="444.0" width="4.1" height="22.0" fill="#2d4156" />
<rect x="411.7" y="486.7" width="4.1" height="23.3" fill="#2d4156" />
<rect x="411.7" y="523.0" width="4.1" height="13.7" fill="#2d4156" />
<rect x="411.7" y="444.2" width="55.0" height="3.3" fill="#2d4156" />
<rect x="411.7" y="458.3" width="55.0" height="4.2" fill="#2d4156" />
<rect x="411.7" y="496.7" width="55.0" height="4.1" fill="#2d4156" />
<rect x="411.7" y="533.3" width="103.3" height="3.4" fill="#2d4156" />
<rect x="463.3" y="444.2" width="3.4" height="92.5" fill="#2d4156" />
<rect x="504.0" y="536.7" width="2.7" height="20.0" fill="#2d4156" />
<rect x="358.3" y="584.2" width="147.4" height="2.3" fill="#2d4156" />
<rect x="358.3" y="584.2" width="2.7" height="10.8" fill="#2d4156" />
<rect x="503.0" y="584.2" width="2.7" height="10.8" fill="#2d4156" />
<rect x="355.0" y="594.3" width="152.5" height="4.9" fill="#2d4156" />
<rect x="505.0" y="532.5" width="78.3" height="4.2" fill="#2d4156" />
<rect x="506.60" y="537.30" width="73.80" height="10.40" fill="#fff" stroke="#2d4156" stroke-width="1.2"/>
<rect x="505.0" y="548.3" width="87.5" height="3.4" fill="#2d4156" />
<rect x="579.0" y="508.3" width="6.0" height="40.0" fill="#2d4156" />
<rect x="606.7" y="474.0" width="31.6" height="3.0" fill="#2d4156" />
<rect x="606.7" y="474.0" width="2.5" height="20.0" fill="#2d4156" />
<rect x="603.6" y="487.0" width="3.4" height="2.5" fill="#2d4156" />
<rect x="606.7" y="509.0" width="2.5" height="13.5" fill="#2d4156" />
<rect x="606.7" y="519.0" width="31.6" height="3.5" fill="#2d4156" />
<rect x="581.7" y="487.0" width="10.3" height="3.0" fill="#2d4156" />
<rect x="613.3" y="546.7" width="76.7" height="4.3" fill="#2d4156" />
<rect x="642.5" y="507.5" width="44.2" height="2.5" fill="#2d4156" />
<rect x="59.5" y="594.8" width="95.5" height="4.4" fill="#2d4156" />
<rect x="177.5" y="594.8" width="37.5" height="3.7" fill="#2d4156" />
<rect x="235.8" y="595.0" width="95.0" height="4.2" fill="#2d4156" />
<rect x="351.7" y="595.0" width="13.3" height="4.2" fill="#2d4156" />
<rect x="67.5" y="628.0" width="55.8" height="5.3" fill="#2d4156" />
<rect x="121.7" y="599.0" width="2.5" height="4.0" fill="#2d4156" />
<rect x="121.7" y="618.0" width="2.5" height="28.7" fill="#2d4156" />
<rect x="121.0" y="665.0" width="4.5" height="71.7" fill="#2d4156" />
<rect x="120.5" y="665.0" width="6.0" height="4.0" fill="#2d4156" />
<rect x="145.8" y="622.5" width="3.4" height="46.7" fill="#2d4156" />
<rect x="143.3" y="665.0" width="5.9" height="4.2" fill="#2d4156" />
<rect x="149.2" y="634.0" width="29.1" height="3.5" fill="#2d4156" />
<rect x="177.5" y="594.8" width="5.0" height="156.9" fill="#2d4156" />
<rect x="182.0" y="601.5" width="28.8" height="3.5" fill="#2d4156" />
<rect x="182.95" y="597.95" width="24.10" height="3.40" fill="#fff" stroke="#2d4156" stroke-width="0.9"/>
<rect x="207.0" y="595.0" width="7.5" height="9.0" fill="#2d4156" />
<rect x="209.6" y="598.6" width="2.4" height="2.4" fill="#fff" />
<rect x="182.5" y="644.0" width="25.8" height="3.5" fill="#2d4156" />
<rect x="207.9" y="603.0" width="2.7" height="14.5" fill="#2d4156" />
<rect x="207.9" y="633.0" width="2.7" height="33.7" fill="#2d4156" />
<rect x="207.5" y="661.7" width="8.3" height="5.0" fill="#2d4156" />
<rect x="236.7" y="662.5" width="5.0" height="89.2" fill="#2d4156" />
<rect x="232.5" y="662.5" width="9.2" height="4.2" fill="#2d4156" />
<rect x="243.3" y="627.5" width="84.2" height="3.3" fill="#2d4156" />
<rect x="240.8" y="616.7" width="4.2" height="26.6" fill="#2d4156" />
<rect x="297.5" y="599.0" width="4.2" height="152.7" fill="#2d4156" />
<rect x="327.5" y="616.7" width="2.5" height="48.3" fill="#2d4156" />
<rect x="327.5" y="661.0" width="4.2" height="4.0" fill="#2d4156" />
<rect x="348.3" y="661.7" width="5.0" height="90.0" fill="#2d4156" />
<rect x="357.5" y="616.7" width="4.2" height="26.6" fill="#2d4156" />
<rect x="361.7" y="628.0" width="84.1" height="3.0" fill="#2d4156" />
<rect x="411.7" y="599.0" width="4.1" height="152.7" fill="#2d4156" />
<rect x="465.0" y="599.0" width="5.0" height="29.3" fill="#2d4156" />
<rect x="461.7" y="628.3" width="11.6" height="2.7" fill="#2d4156" />
<rect x="486.7" y="628.3" width="16.6" height="2.7" fill="#2d4156" />
<rect x="488.3" y="599.0" width="3.4" height="29.3" fill="#2d4156" />
<rect x="441.7" y="628.3" width="4.1" height="30.0" fill="#2d4156" />
<rect x="440.0" y="654.0" width="6.0" height="4.3" fill="#2d4156" />
<rect x="464.0" y="654.0" width="19.0" height="3.5" fill="#2d4156" />
<rect x="498.0" y="654.0" width="26.0" height="3.5" fill="#2d4156" />
<rect x="466.7" y="654.0" width="4.1" height="96.3" fill="#2d4156" />
<rect x="521.7" y="654.0" width="3.3" height="58.5" fill="#2d4156" />
<rect x="527.5" y="595.0" width="90.8" height="4.2" fill="#2d4156" />
<rect x="638.3" y="595.0" width="56.7" height="4.2" fill="#2d4156" />
<rect x="715.0" y="595.0" width="18.3" height="4.2" fill="#2d4156" />
<rect x="530.8" y="599.0" width="5.0" height="31.8" fill="#2d4156" />
<rect x="519.0" y="627.5" width="16.8" height="3.3" fill="#2d4156" />
<rect x="577.5" y="599.0" width="4.2" height="113.5" fill="#2d4156" />
<rect x="582.20" y="597.20" width="25.60" height="4.00" fill="#fff" stroke="#2d4156" stroke-width="1"/>
<rect x="608.3" y="599.0" width="6.7" height="6.0" fill="#2d4156" />
<rect x="581.7" y="635.8" width="43.3" height="3.4" fill="#2d4156" />
<rect x="620.0" y="635.0" width="5.0" height="16.7" fill="#2d4156" />
<rect x="644.0" y="599.0" width="4.0" height="152.7" fill="#2d4156" />
<rect x="678.3" y="599.0" width="4.2" height="46.0" fill="#2d4156" />
<rect x="644.0" y="640.8" width="51.0" height="4.2" fill="#2d4156" />
<rect x="690.0" y="641.7" width="5.0" height="15.0" fill="#2d4156" />
<rect x="730.8" y="599.0" width="3.4" height="25.0" fill="#2d4156" />
<rect x="711.7" y="651.7" width="41.6" height="8.3" fill="#2d4156" />
<rect x="711.7" y="651.7" width="7.5" height="34.3" fill="#2d4156" />
<rect x="711.7" y="704.0" width="7.5" height="47.7" fill="#2d4156" />
<rect x="59.2" y="712.5" width="29.1" height="7.5" fill="#2d4156" />
<rect x="88.3" y="712.5" width="13.4" height="7.5" fill="#fff" />
<rect x="88.3" y="712.5" width="13.4" height="3.4" fill="#e4e8ec" />
<line x1="88.3" y1="712.8" x2="101.7" y2="712.8" stroke="#6c7a88" stroke-width="0.6" />
<line x1="88.3" y1="715.9" x2="101.7" y2="715.9" stroke="#8d99a5" stroke-width="0.6" />
<line x1="88.3" y1="719.6" x2="101.7" y2="719.6" stroke="#9aa5b0" stroke-width="0.5" />
<rect x="115.0" y="712.5" width="10.0" height="24.2" fill="#2d4156" />
<rect x="115.0" y="728.3" width="20.0" height="8.4" fill="#2d4156" />
<rect x="59.2" y="720.0" width="5.8" height="30.0" fill="#eceef0" />
<rect x="59.5" y="720.3" width="5.2" height="29.4" fill="none" stroke="#7d8995" stroke-width="0.6"/>
<rect x="59.2" y="745.8" width="60.0" height="4.2" fill="#eceef0" />
<rect x="59.5" y="746.1" width="59.4" height="3.6" fill="none" stroke="#7d8995" stroke-width="0.6"/>
<rect x="93.70" y="750.40" width="15.90" height="10.00" fill="#fff" stroke="#8a8a8a" stroke-width="0.8"/>
<rect x="120.10" y="737.60" width="57.30" height="18.20" fill="#fff" stroke="#2d4156" stroke-width="1.8"/>
<rect x="148.3" y="728.3" width="18.4" height="8.4" fill="#fff" />
<rect x="148.3" y="728.3" width="18.4" height="3.8" fill="#e4e8ec" />
<line x1="148.3" y1="728.6" x2="166.7" y2="728.6" stroke="#6c7a88" stroke-width="0.6" />
<line x1="148.3" y1="732.1" x2="166.7" y2="732.1" stroke="#8d99a5" stroke-width="0.6" />
<line x1="148.3" y1="736.3" x2="166.7" y2="736.3" stroke="#9aa5b0" stroke-width="0.5" />
<rect x="166.7" y="728.3" width="15.0" height="8.4" fill="#2d4156" />
<rect x="174.0" y="736.7" width="7.7" height="15.0" fill="#2d4156" />
<rect x="181.7" y="743.3" width="15.0" height="8.4" fill="#2d4156" />
<rect x="196.7" y="743.3" width="28.3" height="8.4" fill="#fff" />
<rect x="196.7" y="743.3" width="28.3" height="3.8" fill="#e4e8ec" />
<line x1="196.7" y1="743.6" x2="225.0" y2="743.6" stroke="#6c7a88" stroke-width="0.6" />
<line x1="196.7" y1="747.1" x2="225.0" y2="747.1" stroke="#8d99a5" stroke-width="0.6" />
<line x1="196.7" y1="751.3" x2="225.0" y2="751.3" stroke="#9aa5b0" stroke-width="0.5" />
<rect x="225.0" y="743.3" width="20.8" height="8.4" fill="#2d4156" />
<rect x="237.5" y="712.5" width="8.3" height="39.2" fill="#2d4156" />
<rect x="259.4" y="712.5" width="11.4" height="7.5" fill="#fff" />
<rect x="259.4" y="712.5" width="11.4" height="3.4" fill="#e4e8ec" />
<line x1="259.4" y1="712.8" x2="270.8" y2="712.8" stroke="#6c7a88" stroke-width="0.6" />
<line x1="259.4" y1="715.9" x2="270.8" y2="715.9" stroke="#8d99a5" stroke-width="0.6" />
<line x1="259.4" y1="719.6" x2="270.8" y2="719.6" stroke="#9aa5b0" stroke-width="0.5" />
<rect x="270.8" y="712.5" width="30.9" height="7.5" fill="#2d4156" />
<rect x="293.3" y="712.5" width="8.4" height="39.2" fill="#2d4156" />
<rect x="245.8" y="745.8" width="47.5" height="5.9" fill="#eceef0" />
<rect x="246.1" y="746.1" width="46.9" height="5.3" fill="none" stroke="#7d8995" stroke-width="0.6"/>
<rect x="277.10" y="752.10" width="15.80" height="9.20" fill="#fff" stroke="#8a8a8a" stroke-width="0.8"/>
<rect x="293.3" y="743.3" width="17.5" height="8.4" fill="#2d4156" />
<rect x="310.8" y="743.3" width="28.4" height="8.4" fill="#fff" />
<rect x="310.8" y="743.3" width="28.4" height="3.8" fill="#e4e8ec" />
<line x1="310.8" y1="743.6" x2="339.2" y2="743.6" stroke="#6c7a88" stroke-width="0.6" />
<line x1="310.8" y1="747.1" x2="339.2" y2="747.1" stroke="#8d99a5" stroke-width="0.6" />
<line x1="310.8" y1="751.3" x2="339.2" y2="751.3" stroke="#9aa5b0" stroke-width="0.5" />
<rect x="339.2" y="743.3" width="18.6" height="8.4" fill="#2d4156" />
<rect x="349.2" y="712.5" width="8.6" height="39.2" fill="#2d4156" />
<rect x="372.0" y="712.8" width="11.0" height="7.5" fill="#fff" />
<rect x="372.0" y="712.8" width="11.0" height="3.4" fill="#e4e8ec" />
<line x1="372.0" y1="713.1" x2="383.0" y2="713.1" stroke="#6c7a88" stroke-width="0.6" />
<line x1="372.0" y1="716.2" x2="383.0" y2="716.2" stroke="#8d99a5" stroke-width="0.6" />
<line x1="372.0" y1="719.9" x2="383.0" y2="719.9" stroke="#9aa5b0" stroke-width="0.5" />
<rect x="383.0" y="712.8" width="33.0" height="7.5" fill="#2d4156" />
<rect x="407.5" y="712.8" width="8.5" height="37.5" fill="#2d4156" />
<rect x="357.8" y="745.6" width="49.7" height="5.7" fill="#eceef0" />
<rect x="358.1" y="745.9" width="49.1" height="5.1" fill="none" stroke="#7d8995" stroke-width="0.6"/>
<rect x="392.00" y="751.70" width="15.10" height="8.50" fill="#fff" stroke="#8a8a8a" stroke-width="0.8"/>
<rect x="407.5" y="742.8" width="19.7" height="7.5" fill="#2d4156" />
<rect x="427.2" y="742.8" width="28.1" height="7.5" fill="#fff" />
<rect x="427.2" y="742.8" width="28.1" height="3.4" fill="#e4e8ec" />
<line x1="427.2" y1="743.1" x2="455.3" y2="743.1" stroke="#6c7a88" stroke-width="0.6" />
<line x1="427.2" y1="746.2" x2="455.3" y2="746.2" stroke="#8d99a5" stroke-width="0.6" />
<line x1="427.2" y1="749.9" x2="455.3" y2="749.9" stroke="#9aa5b0" stroke-width="0.5" />
<rect x="455.3" y="742.8" width="27.2" height="7.5" fill="#2d4156" />
<rect x="482.5" y="742.8" width="29.1" height="7.5" fill="#fff" />
<rect x="482.5" y="742.8" width="29.1" height="3.4" fill="#e4e8ec" />
<line x1="482.5" y1="743.1" x2="511.6" y2="743.1" stroke="#6c7a88" stroke-width="0.6" />
<line x1="482.5" y1="746.2" x2="511.6" y2="746.2" stroke="#8d99a5" stroke-width="0.6" />
<line x1="482.5" y1="749.9" x2="511.6" y2="749.9" stroke="#9aa5b0" stroke-width="0.5" />
<rect x="511.6" y="742.8" width="8.4" height="7.5" fill="#2d4156" />
<rect x="466.7" y="654.0" width="4.1" height="96.3" fill="#2d4156" />
<rect x="520.8" y="712.5" width="8.4" height="39.2" fill="#2d4156" />
<rect x="511.7" y="743.3" width="17.5" height="8.4" fill="#2d4156" />
<rect x="542.5" y="712.5" width="15.8" height="7.5" fill="#fff" />
<rect x="542.5" y="712.5" width="15.8" height="3.4" fill="#e4e8ec" />
<line x1="542.5" y1="712.8" x2="558.3" y2="712.8" stroke="#6c7a88" stroke-width="0.6" />
<line x1="542.5" y1="715.9" x2="558.3" y2="715.9" stroke="#8d99a5" stroke-width="0.6" />
<line x1="542.5" y1="719.6" x2="558.3" y2="719.6" stroke="#9aa5b0" stroke-width="0.5" />
<rect x="558.3" y="712.5" width="47.5" height="7.5" fill="#2d4156" />
<rect x="605.8" y="712.5" width="18.4" height="7.5" fill="#fff" />
<rect x="605.8" y="712.5" width="18.4" height="3.4" fill="#e4e8ec" />
<line x1="605.8" y1="712.8" x2="624.2" y2="712.8" stroke="#6c7a88" stroke-width="0.6" />
<line x1="605.8" y1="715.9" x2="624.2" y2="715.9" stroke="#8d99a5" stroke-width="0.6" />
<line x1="605.8" y1="719.6" x2="624.2" y2="719.6" stroke="#9aa5b0" stroke-width="0.5" />
<rect x="577.5" y="712.5" width="4.2" height="7.5" fill="#2d4156" />
<rect x="581.7" y="720.0" width="1.6" height="26.7" fill="#2d4156" />
<rect x="529.2" y="745.8" width="110.8" height="5.9" fill="#eceef0" />
<rect x="529.5" y="746.1" width="110.2" height="5.3" fill="none" stroke="#7d8995" stroke-width="0.6"/>
<rect x="574.0" y="745.8" width="20.0" height="2.5" fill="#2d4156" />
<rect x="557.90" y="752.10" width="15.90" height="9.20" fill="#fff" stroke="#8a8a8a" stroke-width="0.8"/>
<rect x="623.70" y="752.10" width="15.90" height="9.20" fill="#fff" stroke="#8a8a8a" stroke-width="0.8"/>
<rect x="640.0" y="712.5" width="8.3" height="39.2" fill="#2d4156" />
<rect x="640.0" y="743.3" width="23.0" height="8.4" fill="#2d4156" />
<rect x="663.0" y="743.3" width="30.0" height="8.0" fill="#fff" />
<rect x="663.0" y="743.3" width="30.0" height="3.6" fill="#e4e8ec" />
<line x1="663.0" y1="743.6" x2="693.0" y2="743.6" stroke="#6c7a88" stroke-width="0.6" />
<line x1="663.0" y1="746.9" x2="693.0" y2="746.9" stroke="#8d99a5" stroke-width="0.6" />
<line x1="663.0" y1="750.9" x2="693.0" y2="750.9" stroke="#9aa5b0" stroke-width="0.5" />
<rect x="676.40" y="751.70" width="16.20" height="9.90" fill="#fff" stroke="#8a8a8a" stroke-width="0.8"/>
<rect x="693.0" y="743.3" width="26.2" height="8.4" fill="#2d4156" />
<polygon points="739.8,532.8 768.7,567.9 733.9,596.5 733.0,599.0 690.0,599.0 690.0,551.0 711.5,550.2" fill="url(#dots)" />
<polygon points="688.1,382.0 902.2,648.1 896.6,652.6 682.5,386.6" fill="#eceef0" />
<polyline points="687.9,382.2 912.1,660.7" fill="none" stroke="#5f6b78" stroke-width="0.7"/>
<polyline points="682.9,386.2 897.1,652.2" fill="none" stroke="#9aa5b0" stroke-width="0.5"/>
<polygon points="731.7,436.2 734.5,439.7 728.9,444.2 726.0,440.7" fill="#2d4156" />
<polygon points="779.9,496.2 782.8,499.7 777.2,504.2 774.3,500.7" fill="#2d4156" />
<polygon points="887.8,630.1 890.6,633.7 885.0,638.2 882.2,634.7" fill="#2d4156" />
<polygon points="677.1,379.9 901.6,658.8 895.1,664.1 670.6,385.2" fill="#2d4156" />
<polygon points="669.1,383.3 682.0,376.2 688.1,382.0 675.9,391.8" fill="#2d4156" />
<polygon points="902.2,648.1 907.2,654.3 895.1,664.1 890.1,657.8" fill="#2d4156" />
<polygon points="890.1,657.8 895.1,664.1 883.4,673.5 878.4,667.3" fill="#2d4156" />
<polygon points="858.1,683.6 863.1,689.8 839.0,709.2 834.0,703.0" fill="#2d4156" />
<polygon points="878.4,667.3 883.4,673.5 863.1,689.8 858.1,683.6" fill="#fff" />
<polygon points="878.4,667.3 880.9,670.4 860.6,686.7 858.1,683.6" fill="#eceef0" />
<polygon points="878.4,667.3 883.4,673.5 863.1,689.8 858.1,683.6" fill="none" stroke="#7d8995" stroke-width="0.6"/>
<polygon points="881.1,675.4 886.1,681.6 870.5,694.1 865.5,687.9" fill="#fff" stroke="#8a8a8a" stroke-width="0.8"/>
<polygon points="767.1,504.5 770.0,508.0 714.3,553.7 711.5,550.2" fill="#2d4156" />
<polygon points="735.0,520.6 755.9,546.1 752.8,548.6 731.9,523.1" fill="#2d4156" />
<polygon points="775.9,559.4 778.5,562.5 735.2,598.0 732.7,594.9" fill="#2d4156" />
<polygon points="778.8,559.7 789.5,572.8 786.4,575.3 775.7,562.2" fill="#2d4156" />
<polygon points="806.0,586.5 809.1,590.4 778.2,615.7 775.0,611.9" fill="#2d4156" />
<polygon points="750.2,583.2 809.2,655.0 805.3,658.2 746.3,586.3" fill="#2d4156" />
<polygon points="812.6,663.9 846.8,705.6 841.4,710.1 807.1,668.3" fill="#2d4156" />
<polygon points="783.5,626.9 788.6,633.1 758.4,657.9 753.4,651.7" fill="#2d4156" />
<polygon points="740.0,651.7 755.0,655.0 784.2,631.7 786.0,639.0 757.0,662.0 740.0,660.0" fill="#2d4156" />
<polygon points="754.1,660.3 769.9,705.3 771.7,704.7 755.9,659.7" fill="#2d4156" />
<polygon points="810.5,670.8 813.0,673.9 772.5,706.0 769.0,706.0" fill="#eceef0" stroke="#7d8995" stroke-width="0.6"/>
<rect x="719.2" y="703.3" width="50.8" height="4.2" fill="#eceef0" />
<rect x="719.5" y="703.6" width="50.2" height="3.6" fill="none" stroke="#7d8995" stroke-width="0.6"/>
<polygon points="704.7,486.9 740.7,474.4 739.3,470.6 703.3,483.1" fill="#2d4156" />
<polygon points="702.5,486.3 724.5,512.3 727.5,509.7 705.5,483.7" fill="#2d4156" />
<polygon points="700.8,440.0 708.3,434.2 740.0,472.5 703.8,484.2 700.7,474.7 722.0,467.8" fill="#e6e6e6" stroke="#c4c4c4" stroke-width="0.6"/>
<polygon points="704.4,486.3 740.7,474.6 739.3,470.4 703.1,482.1" fill="#2d4156" />
<polygon points="709.2,483.3 713.2,482.0 712.8,480.4 708.8,481.7" fill="#fff" />
<polygon points="718.3,480.3 722.3,479.0 721.8,477.5 717.8,478.8" fill="#fff" />
<polygon points="727.4,477.4 731.4,476.1 730.9,474.6 726.9,475.9" fill="#fff" />
<polygon points="704.8,487.2 707.2,490.0 708.4,489.0 706.0,486.2" fill="#fff" />
<polygon points="708.8,491.9 711.2,494.7 712.4,493.7 710.0,490.9" fill="#fff" />
<polygon points="712.8,496.6 715.2,499.4 716.4,498.4 714.0,495.6" fill="#fff" />
<polygon points="742.0,478.6 762.9,504.1 754.4,511.1 733.5,485.6" fill="#f4f4f4" stroke="#c8c8c8" stroke-width="0.6"/>
<polygon points="730.4,494.5 735.5,500.7 727.8,507.1 722.7,500.9" fill="#f7f7f7" stroke="#c8c8c8" stroke-width="0.6"/>
<polygon points="776.7,566.6 796.3,590.5 787.8,597.5 768.2,573.6" fill="#f4f4f4" stroke="#c8c8c8" stroke-width="0.6"/>
<polygon points="765.9,581.9 772.3,589.6 764.5,595.9 758.2,588.2" fill="#f7f7f7" stroke="#c8c8c8" stroke-width="0.6"/>
<polygon points="747.1,592.1 775.1,626.1 766.6,633.1 738.6,599.1" fill="#f4f4f4" stroke="#c8c8c8" stroke-width="0.6"/>
<polygon points="742.9,613.7 749.2,621.4 741.5,627.8 735.2,620.0" fill="#f7f7f7" stroke="#c8c8c8" stroke-width="0.6"/>
<polygon points="809.1,590.4 816.7,599.6 785.8,625.0 778.2,615.7" fill="#e6e6e6" stroke="#c4c4c4" stroke-width="0.6"/>
<polygon points="646.7,392.7 668.7,385.3 670.5,391.0 648.5,398.4" fill="#e2ecf2" stroke="#7d8995" stroke-width="0.6"/>
<polygon points="648.5,382.4 665.0,377.0 668.0,385.5 651.5,391.0" fill="#fff" stroke="#8a8a8a" stroke-width="0.8"/>
<rect x="643.0" y="423.3" width="13.0" height="2.2" fill="#a4adb6" />
<line x1="668.7" y1="424.7" x2="689.3" y2="409.3" stroke="#a4adb6" stroke-width="2" />
<line x1="656.0" y1="425.0" x2="663.0" y2="429.0" stroke="#2b2b2b" stroke-width="0.8" />
<rect x="730.8" y="599.0" width="3.4" height="25.0" fill="#2d4156" />
<rect x="725.0" y="647.5" width="21.7" height="5.0" fill="#2d4156" />
<rect x="731.5" y="639.0" width="2.7" height="9.0" fill="#2d4156" />
<rect x="715.0" y="595.0" width="18.3" height="4.2" fill="#2d4156" />
<text transform="translate(115.8,412.2) scale(0.82,1)" font-size="9" fill="#3a3a3a" font-weight="normal" text-anchor="middle" stroke="#3a3a3a" stroke-width="0.22">19,13</text>
<text transform="translate(79.2,414.0) scale(0.82,1)" font-size="9" fill="#3a3a3a" font-weight="normal" text-anchor="middle" stroke="#3a3a3a" stroke-width="0.22">Лоджия</text>
<text transform="translate(79.2,422.8) scale(0.82,1)" font-size="9" fill="#3a3a3a" font-weight="normal" text-anchor="middle" stroke="#3a3a3a" stroke-width="0.22">5,85</text>
<text transform="translate(202.3,412.4) scale(0.82,1)" font-size="9" fill="#3a3a3a" font-weight="normal" text-anchor="middle" stroke="#3a3a3a" stroke-width="0.22">13,70</text>
<text transform="translate(281.2,412.2) scale(0.82,1)" font-size="9" fill="#3a3a3a" font-weight="normal" text-anchor="middle" stroke="#3a3a3a" stroke-width="0.22">14,80</text>
<text transform="translate(326.7,409.0) scale(0.82,1)" font-size="9" fill="#3a3a3a" font-weight="normal" text-anchor="middle" stroke="#3a3a3a" stroke-width="0.22">Лоджия</text>
<text transform="translate(326.7,418.2) scale(0.82,1)" font-size="9" fill="#3a3a3a" font-weight="normal" text-anchor="middle" stroke="#3a3a3a" stroke-width="0.22">2,93</text>
<text transform="translate(311.7,439.7) scale(0.82,1)" font-size="9" fill="#3a3a3a" font-weight="normal" text-anchor="middle" stroke="#3a3a3a" stroke-width="0.22">10,07</text>
<text transform="translate(440.0,431.5) scale(0.82,1)" font-size="9" fill="#3a3a3a" font-weight="normal" text-anchor="middle" stroke="#3a3a3a" stroke-width="0.22">4,22</text>
<text transform="translate(490.0,431.5) scale(0.82,1)" font-size="9" fill="#3a3a3a" font-weight="normal" text-anchor="middle" stroke="#3a3a3a" stroke-width="0.22">14,69</text>
<text transform="translate(382.5,494.0) scale(0.82,1)" font-size="9" fill="#3a3a3a" font-weight="normal" text-anchor="middle" stroke="#3a3a3a" stroke-width="0.22">Холл</text>
<text transform="translate(382.5,502.4) scale(0.82,1)" font-size="9" fill="#3a3a3a" font-weight="normal" text-anchor="middle" stroke="#3a3a3a" stroke-width="0.22">35,52</text>
<text transform="translate(550.0,409.0) scale(0.82,1)" font-size="9" fill="#3a3a3a" font-weight="normal" text-anchor="middle" stroke="#3a3a3a" stroke-width="0.22">Лоджия</text>
<text transform="translate(549.6,418.6) scale(0.82,1)" font-size="9" fill="#3a3a3a" font-weight="normal" text-anchor="middle" stroke="#3a3a3a" stroke-width="0.22">3,67</text>
<text transform="translate(622.9,411.2) scale(0.82,1)" font-size="9" fill="#3a3a3a" font-weight="normal" text-anchor="middle" stroke="#3a3a3a" stroke-width="0.22">10,97</text>
<text transform="translate(531.7,443.2) scale(0.82,1)" font-size="9" fill="#3a3a3a" font-weight="normal" text-anchor="middle" stroke="#3a3a3a" stroke-width="0.22">17,36</text>
<text transform="translate(156.7,531.5) scale(0.82,1)" font-size="9" fill="#3a3a3a" font-weight="normal" text-anchor="middle" stroke="#3a3a3a" stroke-width="0.22">7,51</text>
<text transform="translate(120.0,507.2) scale(0.82,1)" font-size="9" fill="#3a3a3a" font-weight="normal" text-anchor="middle" stroke="#3a3a3a" stroke-width="0.22">5,88</text>
<text transform="translate(205.8,531.5) scale(0.82,1)" font-size="9" fill="#3a3a3a" font-weight="normal" text-anchor="middle" stroke="#3a3a3a" stroke-width="0.22">3,81</text>
<text transform="translate(269.0,531.5) scale(0.82,1)" font-size="9" fill="#3a3a3a" font-weight="normal" text-anchor="middle" stroke="#3a3a3a" stroke-width="0.22">4,53</text>
<text transform="translate(303.3,531.5) scale(0.82,1)" font-size="9" fill="#3a3a3a" font-weight="normal" text-anchor="middle" stroke="#3a3a3a" stroke-width="0.22">4,99</text>
<text transform="translate(332.5,531.5) scale(0.82,1)" font-size="9" fill="#3a3a3a" font-weight="normal" text-anchor="middle" stroke="#3a3a3a" stroke-width="0.22">2,84</text>
<text transform="translate(136.7,569.0) scale(0.82,1)" font-size="9" fill="#3a3a3a" font-weight="normal" text-anchor="middle" stroke="#3a3a3a" stroke-width="0.22">2,65</text>
<text transform="translate(82.5,591.5) scale(0.82,1)" font-size="9" fill="#3a3a3a" font-weight="normal" text-anchor="middle" stroke="#3a3a3a" stroke-width="0.22">11,66</text>
<text transform="translate(259.0,581.5) scale(0.82,1)" font-size="9" fill="#3a3a3a" font-weight="normal" text-anchor="middle" stroke="#3a3a3a" stroke-width="0.22">24,18</text>
<text transform="translate(561.7,582.4) scale(0.82,1)" font-size="9" fill="#3a3a3a" font-weight="normal" text-anchor="middle" stroke="#3a3a3a" stroke-width="0.22">30,39</text>
<text transform="translate(600.8,538.2) scale(0.82,1)" font-size="9" fill="#3a3a3a" font-weight="normal" text-anchor="middle" stroke="#3a3a3a" stroke-width="0.22">5,49</text>
<text transform="translate(620.0,487.4) scale(0.82,1)" font-size="9" fill="#3a3a3a" font-weight="normal" text-anchor="middle" stroke="#3a3a3a" stroke-width="0.22">3,29</text>
<text transform="translate(656.7,503.2) scale(0.82,1)" font-size="9" fill="#3a3a3a" font-weight="normal" text-anchor="middle" stroke="#3a3a3a" stroke-width="0.22">17,46</text>
<text transform="translate(667.5,538.2) scale(0.82,1)" font-size="9" fill="#3a3a3a" font-weight="normal" text-anchor="middle" stroke="#3a3a3a" stroke-width="0.22">4,43</text>
<text transform="translate(701.7,538.2) scale(0.82,1)" font-size="9" fill="#3a3a3a" font-weight="normal" text-anchor="middle" stroke="#3a3a3a" stroke-width="0.22">5,32</text>
<text transform="translate(111.7,612.4) scale(0.82,1)" font-size="9" fill="#3a3a3a" font-weight="normal" text-anchor="middle" stroke="#3a3a3a" stroke-width="0.22">4,37</text>
<text transform="translate(161.7,613.2) scale(0.82,1)" font-size="9" fill="#3a3a3a" font-weight="normal" text-anchor="middle" stroke="#3a3a3a" stroke-width="0.22">2,84</text>
<text transform="translate(135.0,634.9) scale(0.82,1)" font-size="9" fill="#3a3a3a" font-weight="normal" text-anchor="middle" stroke="#3a3a3a" stroke-width="0.22">4,14</text>
<text transform="translate(193.3,632.7) scale(0.82,1)" font-size="9" fill="#3a3a3a" font-weight="normal" text-anchor="middle" stroke="#3a3a3a" stroke-width="0.22">2,94</text>
<text transform="translate(224.2,612.4) scale(0.82,1)" font-size="9" fill="#3a3a3a" font-weight="normal" text-anchor="middle" stroke="#3a3a3a" stroke-width="0.22">5,10</text>
<text transform="translate(253.3,612.4) scale(0.82,1)" font-size="9" fill="#3a3a3a" font-weight="normal" text-anchor="middle" stroke="#3a3a3a" stroke-width="0.22">3,86</text>
<text transform="translate(313.3,611.5) scale(0.82,1)" font-size="9" fill="#3a3a3a" font-weight="normal" text-anchor="middle" stroke="#3a3a3a" stroke-width="0.22">2,10</text>
<text transform="translate(340.8,611.5) scale(0.82,1)" font-size="9" fill="#3a3a3a" font-weight="normal" text-anchor="middle" stroke="#3a3a3a" stroke-width="0.22">4,32</text>
<text transform="translate(369.2,611.5) scale(0.82,1)" font-size="9" fill="#3a3a3a" font-weight="normal" text-anchor="middle" stroke="#3a3a3a" stroke-width="0.22">3,78</text>
<text transform="translate(454.2,624.0) scale(0.82,1)" font-size="9" fill="#3a3a3a" font-weight="normal" text-anchor="middle" stroke="#3a3a3a" stroke-width="0.22">3,56</text>
<text transform="translate(479.2,624.0) scale(0.82,1)" font-size="9" fill="#3a3a3a" font-weight="normal" text-anchor="middle" stroke="#3a3a3a" stroke-width="0.22">1,52</text>
<text transform="translate(474.2,647.4) scale(0.82,1)" font-size="9" fill="#3a3a3a" font-weight="normal" text-anchor="middle" stroke="#3a3a3a" stroke-width="0.22">5,29</text>
<text transform="translate(514.2,624.0) scale(0.82,1)" font-size="9" fill="#3a3a3a" font-weight="normal" text-anchor="middle" stroke="#3a3a3a" stroke-width="0.22">3,20</text>
<text transform="translate(623.3,624.0) scale(0.82,1)" font-size="9" fill="#3a3a3a" font-weight="normal" text-anchor="middle" stroke="#3a3a3a" stroke-width="0.22">5,86</text>
<text transform="translate(655.8,624.0) scale(0.82,1)" font-size="9" fill="#3a3a3a" font-weight="normal" text-anchor="middle" stroke="#3a3a3a" stroke-width="0.22">3,34</text>
<text transform="translate(707.5,624.0) scale(0.82,1)" font-size="9" fill="#3a3a3a" font-weight="normal" text-anchor="middle" stroke="#3a3a3a" stroke-width="0.22">6,66</text>
<text transform="translate(104.2,706.5) scale(0.82,1)" font-size="9" fill="#3a3a3a" font-weight="normal" text-anchor="middle" stroke="#3a3a3a" stroke-width="0.22">11,36</text>
<text transform="translate(138.3,724.9) scale(0.82,1)" font-size="9" fill="#3a3a3a" font-weight="normal" text-anchor="middle" stroke="#3a3a3a" stroke-width="0.22">11,02</text>
<text transform="translate(90.8,733.2) scale(0.82,1)" font-size="9" fill="#3a3a3a" font-weight="normal" text-anchor="middle" stroke="#3a3a3a" stroke-width="0.22">Лоджия</text>
<text transform="translate(90.8,742.4) scale(0.82,1)" font-size="9" fill="#3a3a3a" font-weight="normal" text-anchor="middle" stroke="#3a3a3a" stroke-width="0.22">3,70</text>
<text transform="translate(146.7,744.9) scale(0.82,1)" font-size="9" fill="#3a3a3a" font-weight="normal" text-anchor="middle" stroke="#3a3a3a" stroke-width="0.22">Лоджия</text>
<text transform="translate(146.7,752.4) scale(0.82,1)" font-size="9" fill="#3a3a3a" font-weight="normal" text-anchor="middle" stroke="#3a3a3a" stroke-width="0.22">2,51</text>
<text transform="translate(225.8,739.0) scale(0.82,1)" font-size="9" fill="#3a3a3a" font-weight="normal" text-anchor="middle" stroke="#3a3a3a" stroke-width="0.22">12,72</text>
<text transform="translate(255.8,707.9) scale(0.82,1)" font-size="9" fill="#3a3a3a" font-weight="normal" text-anchor="middle" stroke="#3a3a3a" stroke-width="0.22">12,43</text>
<text transform="translate(269.7,732.4) scale(0.82,1)" font-size="9" fill="#3a3a3a" font-weight="normal" text-anchor="middle" stroke="#3a3a3a" stroke-width="0.22">Лоджия</text>
<text transform="translate(269.7,741.5) scale(0.82,1)" font-size="9" fill="#3a3a3a" font-weight="normal" text-anchor="middle" stroke="#3a3a3a" stroke-width="0.22">3,34</text>
<text transform="translate(335.8,739.0) scale(0.82,1)" font-size="9" fill="#3a3a3a" font-weight="normal" text-anchor="middle" stroke="#3a3a3a" stroke-width="0.22">12,30</text>
<text transform="translate(367.2,707.6) scale(0.82,1)" font-size="9" fill="#3a3a3a" font-weight="normal" text-anchor="middle" stroke="#3a3a3a" stroke-width="0.22">12,64</text>
<text transform="translate(382.2,732.0) scale(0.82,1)" font-size="9" fill="#3a3a3a" font-weight="normal" text-anchor="middle" stroke="#3a3a3a" stroke-width="0.22">Лоджия</text>
<text transform="translate(382.2,741.3) scale(0.82,1)" font-size="9" fill="#3a3a3a" font-weight="normal" text-anchor="middle" stroke="#3a3a3a" stroke-width="0.22">3,46</text>
<text transform="translate(428.0,739.5) scale(0.82,1)" font-size="9" fill="#3a3a3a" font-weight="normal" text-anchor="middle" stroke="#3a3a3a" stroke-width="0.22">13,61</text>
<text transform="translate(483.4,739.5) scale(0.82,1)" font-size="9" fill="#3a3a3a" font-weight="normal" text-anchor="middle" stroke="#3a3a3a" stroke-width="0.22">11,68</text>
<text transform="translate(539.2,708.2) scale(0.82,1)" font-size="9" fill="#3a3a3a" font-weight="normal" text-anchor="middle" stroke="#3a3a3a" stroke-width="0.22">15,36</text>
<text transform="translate(554.2,732.4) scale(0.82,1)" font-size="9" fill="#3a3a3a" font-weight="normal" text-anchor="middle" stroke="#3a3a3a" stroke-width="0.22">Лоджия</text>
<text transform="translate(554.2,741.5) scale(0.82,1)" font-size="9" fill="#3a3a3a" font-weight="normal" text-anchor="middle" stroke="#3a3a3a" stroke-width="0.22">3,68</text>
<text transform="translate(611.7,732.4) scale(0.82,1)" font-size="9" fill="#3a3a3a" font-weight="normal" text-anchor="middle" stroke="#3a3a3a" stroke-width="0.22">Лоджия</text>
<text transform="translate(611.7,741.5) scale(0.82,1)" font-size="9" fill="#3a3a3a" font-weight="normal" text-anchor="middle" stroke="#3a3a3a" stroke-width="0.22">3,93</text>
<text transform="translate(629.2,708.2) scale(0.82,1)" font-size="9" fill="#3a3a3a" font-weight="normal" text-anchor="middle" stroke="#3a3a3a" stroke-width="0.22">12,20</text>
<text transform="translate(699.5,738.7) scale(0.82,1)" font-size="9" fill="#3a3a3a" font-weight="normal" text-anchor="middle" stroke="#3a3a3a" stroke-width="0.22">16,13</text>
<text transform="translate(741.7,694.0) scale(0.82,1)" font-size="9" fill="#3a3a3a" font-weight="normal" text-anchor="middle" stroke="#3a3a3a" stroke-width="0.22">Лоджия</text>
<text transform="translate(741.7,701.5) scale(0.82,1)" font-size="9" fill="#3a3a3a" font-weight="normal" text-anchor="middle" stroke="#3a3a3a" stroke-width="0.22">4,95</text>
<text transform="translate(740.0,512.2) rotate(-39) scale(0.82,1)" font-size="9" fill="#3a3a3a" font-weight="normal" text-anchor="middle" stroke="#3a3a3a" stroke-width="0.22">3,51</text>
<text transform="translate(775.0,543.2) rotate(-39) scale(0.82,1)" font-size="9" fill="#3a3a3a" font-weight="normal" text-anchor="middle" stroke="#3a3a3a" stroke-width="0.22">4,13</text>
<text transform="translate(804.5,574.2) rotate(-39) scale(0.82,1)" font-size="9" fill="#3a3a3a" font-weight="normal" text-anchor="middle" stroke="#3a3a3a" stroke-width="0.22">3,30</text>
<text transform="translate(783.3,591.8) rotate(-39) scale(0.82,1)" font-size="9" fill="#3a3a3a" font-weight="normal" text-anchor="middle" stroke="#3a3a3a" stroke-width="0.22">3,36</text>
<text transform="translate(752.0,628.2) rotate(-39) scale(0.82,1)" font-size="9" fill="#3a3a3a" font-weight="normal" text-anchor="middle" stroke="#3a3a3a" stroke-width="0.22">5,22</text>
<text transform="translate(874.2,665.7) rotate(-39) scale(0.82,1)" font-size="9" fill="#3a3a3a" font-weight="normal" text-anchor="middle" stroke="#3a3a3a" stroke-width="0.22">16,94</text>
<text transform="translate(781.0,677.2) rotate(-39) scale(0.82,1)" font-size="9" fill="#3a3a3a" font-weight="normal" text-anchor="middle" stroke="#3a3a3a" stroke-width="0.22">Лоджия</text>
<text transform="translate(785.5,684.2) rotate(-39) scale(0.82,1)" font-size="9" fill="#3a3a3a" font-weight="normal" text-anchor="middle" stroke="#3a3a3a" stroke-width="0.22">5,12</text>
<text transform="translate(660.5,406.5) rotate(-16) scale(0.82,1)" font-size="8.4" fill="#3a3a3a" font-weight="normal" text-anchor="middle" stroke="#3a3a3a" stroke-width="0.22">Теплая</text>
<text transform="translate(663.0,414.0) rotate(-16) scale(0.82,1)" font-size="8.4" fill="#3a3a3a" font-weight="normal" text-anchor="middle" stroke="#3a3a3a" stroke-width="0.22">лоджия</text>
<text transform="translate(665.5,421.5) rotate(-16) scale(0.82,1)" font-size="8.4" fill="#3a3a3a" font-weight="normal" text-anchor="middle" stroke="#3a3a3a" stroke-width="0.22">3,01</text>
<rect x="157.20" y="554.50" width="14.80" height="9.00" fill="#fff" stroke="#3a3a3a" stroke-width="1"/>
<text transform="translate(164.6,562.2)" font-size="8.5" fill="#333" font-weight="normal" text-anchor="middle">10</text>
<rect x="157.20" y="583.00" width="14.80" height="9.00" fill="#fff" stroke="#3a3a3a" stroke-width="1"/>
<text transform="translate(164.6,590.7)" font-size="8.5" fill="#333" font-weight="normal" text-anchor="middle">9</text>
<rect x="288.80" y="554.50" width="14.80" height="9.00" fill="#fff" stroke="#3a3a3a" stroke-width="1"/>
<text transform="translate(296.2,562.2)" font-size="8.5" fill="#333" font-weight="normal" text-anchor="middle">11</text>
<rect x="215.50" y="583.00" width="14.80" height="9.00" fill="#fff" stroke="#3a3a3a" stroke-width="1"/>
<text transform="translate(222.9,590.7)" font-size="8.5" fill="#333" font-weight="normal" text-anchor="middle">8</text>
<rect x="338.00" y="583.00" width="14.80" height="9.00" fill="#fff" stroke="#3a3a3a" stroke-width="1"/>
<text transform="translate(345.4,590.7)" font-size="8.5" fill="#333" font-weight="normal" text-anchor="middle">7</text>
<rect x="508.00" y="583.00" width="14.80" height="9.00" fill="#fff" stroke="#3a3a3a" stroke-width="1"/>
<text transform="translate(515.4,590.7)" font-size="8.5" fill="#333" font-weight="normal" text-anchor="middle">6</text>
<rect x="600.50" y="554.70" width="14.80" height="9.00" fill="#fff" stroke="#3a3a3a" stroke-width="1"/>
<text transform="translate(607.9,562.4)" font-size="8.5" fill="#333" font-weight="normal" text-anchor="middle">1</text>
<rect x="624.70" y="583.00" width="14.80" height="9.00" fill="#fff" stroke="#3a3a3a" stroke-width="1"/>
<text transform="translate(632.1,590.7)" font-size="8.5" fill="#333" font-weight="normal" text-anchor="middle">5</text>
<rect x="697.20" y="554.70" width="14.80" height="9.00" fill="#fff" stroke="#3a3a3a" stroke-width="1"/>
<text transform="translate(704.6,562.4)" font-size="8.5" fill="#333" font-weight="normal" text-anchor="middle">2</text>
<rect x="743.80" y="558.80" width="14.80" height="9.00" fill="#fff" stroke="#3a3a3a" stroke-width="1"/>
<text transform="translate(751.2,566.5)" font-size="8.5" fill="#333" font-weight="normal" text-anchor="middle">3</text>
<rect x="701.30" y="583.00" width="14.80" height="9.00" fill="#fff" stroke="#3a3a3a" stroke-width="1"/>
<text transform="translate(708.7,590.7)" font-size="8.5" fill="#333" font-weight="normal" text-anchor="middle">4</text>
<circle cx="151.7" cy="433.3" r="10.7" fill="#ef8419"/>
<text x="149.5" y="437.90000000000003" font-size="13" fill="#fff" stroke="#fff" stroke-width="0.25" text-anchor="middle">2</text>
<text x="155.29999999999998" y="436.7" font-size="10" fill="#fff" text-anchor="middle">+</text>
<text transform="translate(151.7,454.6) scale(0.97,1)" font-size="9.6" fill="#e28e2f" font-weight="normal" text-anchor="middle" stroke="#e28e2f" stroke-width="0.45">64,34 м²</text>
<line x1="132.7" y1="458.1" x2="170.7" y2="458.1" stroke="#e28e2f" stroke-width="1.1" />
<text transform="translate(151.7,467.4) scale(0.97,1)" font-size="9.6" fill="#e28e2f" font-weight="normal" text-anchor="middle" stroke="#e28e2f" stroke-width="0.45">67,27 м²</text>
<circle cx="269.3" cy="433.5" r="10.7" fill="#118a62"/>
<text x="267.1" y="438.1" font-size="13" fill="#fff" stroke="#fff" stroke-width="0.25" text-anchor="middle">1</text>
<text x="272.90000000000003" y="436.9" font-size="10" fill="#fff" text-anchor="middle">+</text>
<text transform="translate(269.3,454.6) scale(0.97,1)" font-size="9.6" fill="#1f8560" font-weight="normal" text-anchor="middle" stroke="#1f8560" stroke-width="0.45">37,23 м²</text>
<line x1="250.3" y1="458.1" x2="288.3" y2="458.1" stroke="#6f9a8b" stroke-width="1.1" />
<text transform="translate(269.3,467.4) scale(0.97,1)" font-size="9.6" fill="#1f8560" font-weight="normal" text-anchor="middle" stroke="#1f8560" stroke-width="0.45">38,70 м²</text>
<circle cx="555" cy="457.8" r="10.7" fill="#118a62"/>
<text x="552.8" y="462.40000000000003" font-size="13" fill="#fff" stroke="#fff" stroke-width="0.25" text-anchor="middle">1</text>
<text x="558.6" y="461.2" font-size="10" fill="#fff" text-anchor="middle">+</text>
<text transform="translate(555.0,479.0) scale(0.97,1)" font-size="9.6" fill="#1f8560" font-weight="normal" text-anchor="middle" stroke="#1f8560" stroke-width="0.45">37,11 м²</text>
<line x1="536.0" y1="482.5" x2="574.0" y2="482.5" stroke="#6f9a8b" stroke-width="1.1" />
<text transform="translate(555.0,491.8) scale(0.97,1)" font-size="9.6" fill="#1f8560" font-weight="normal" text-anchor="middle" stroke="#1f8560" stroke-width="0.45">38,95 м²</text>
<circle cx="676.7" cy="448.5" r="10.7" fill="#118a62"/>
<text transform="translate(677.0,453.5) scale(0.85,1)" font-size="14" fill="#fff" text-anchor="middle">С</text>
<text transform="translate(676.7,470.0) scale(0.97,1)" font-size="9.6" fill="#1f8560" font-weight="normal" text-anchor="middle" stroke="#1f8560" stroke-width="0.45">33,73 м²</text>
<line x1="657.7" y1="473.5" x2="695.7" y2="473.5" stroke="#6f9a8b" stroke-width="1.1" />
<text transform="translate(676.7,482.8) scale(0.97,1)" font-size="9.6" fill="#1f8560" font-weight="normal" text-anchor="middle" stroke="#1f8560" stroke-width="0.45">33,73 м²</text>
<circle cx="94.2" cy="659.2" r="10.7" fill="#118a62"/>
<text x="92.0" y="663.8000000000001" font-size="13" fill="#fff" stroke="#fff" stroke-width="0.25" text-anchor="middle">1</text>
<text x="97.8" y="662.6" font-size="10" fill="#fff" text-anchor="middle">+</text>
<text transform="translate(94.2,680.3) scale(0.97,1)" font-size="9.6" fill="#1f8560" font-weight="normal" text-anchor="middle" stroke="#1f8560" stroke-width="0.45">33,73 м²</text>
<line x1="75.2" y1="683.8" x2="113.2" y2="683.8" stroke="#6f9a8b" stroke-width="1.1" />
<text transform="translate(94.2,693.1) scale(0.97,1)" font-size="9.6" fill="#1f8560" font-weight="normal" text-anchor="middle" stroke="#1f8560" stroke-width="0.45">36,33 м²</text>
<circle cx="269.2" cy="659.2" r="10.7" fill="#118a62"/>
<text x="267.0" y="663.8000000000001" font-size="13" fill="#fff" stroke="#fff" stroke-width="0.25" text-anchor="middle">1</text>
<text x="272.8" y="662.6" font-size="10" fill="#fff" text-anchor="middle">+</text>
<text transform="translate(269.2,680.3) scale(0.97,1)" font-size="9.6" fill="#1f8560" font-weight="normal" text-anchor="middle" stroke="#1f8560" stroke-width="0.45">37,05 м²</text>
<line x1="250.2" y1="683.8" x2="288.2" y2="683.8" stroke="#6f9a8b" stroke-width="1.1" />
<text transform="translate(269.2,693.1) scale(0.97,1)" font-size="9.6" fill="#1f8560" font-weight="normal" text-anchor="middle" stroke="#1f8560" stroke-width="0.45">38,72 м²</text>
<circle cx="382.5" cy="659.2" r="10.7" fill="#118a62"/>
<text x="380.3" y="663.8000000000001" font-size="13" fill="#fff" stroke="#fff" stroke-width="0.25" text-anchor="middle">1</text>
<text x="386.1" y="662.6" font-size="10" fill="#fff" text-anchor="middle">+</text>
<text transform="translate(382.5,680.3) scale(0.97,1)" font-size="9.6" fill="#1f8560" font-weight="normal" text-anchor="middle" stroke="#1f8560" stroke-width="0.45">35,14 м²</text>
<line x1="363.5" y1="683.8" x2="401.5" y2="683.8" stroke="#6f9a8b" stroke-width="1.1" />
<text transform="translate(382.5,693.1) scale(0.97,1)" font-size="9.6" fill="#1f8560" font-weight="normal" text-anchor="middle" stroke="#1f8560" stroke-width="0.45">36,87 м²</text>
<circle cx="550.8" cy="659.2" r="10.7" fill="#ef8419"/>
<text x="548.5999999999999" y="663.8000000000001" font-size="13" fill="#fff" stroke="#fff" stroke-width="0.25" text-anchor="middle">2</text>
<text x="554.4" y="662.6" font-size="10" fill="#fff" text-anchor="middle">+</text>
<text transform="translate(550.8,680.3) scale(0.97,1)" font-size="9.6" fill="#e28e2f" font-weight="normal" text-anchor="middle" stroke="#e28e2f" stroke-width="0.45">54,22 м²</text>
<line x1="531.8" y1="683.8" x2="569.8" y2="683.8" stroke="#e28e2f" stroke-width="1.1" />
<text transform="translate(550.8,693.1) scale(0.97,1)" font-size="9.6" fill="#e28e2f" font-weight="normal" text-anchor="middle" stroke="#e28e2f" stroke-width="0.45">56,06 м²</text>
<circle cx="611.7" cy="664.2" r="10.7" fill="#118a62"/>
<text transform="translate(612.0,669.2) scale(0.85,1)" font-size="14" fill="#fff" text-anchor="middle">С</text>
<text transform="translate(611.7,685.3) scale(0.97,1)" font-size="9.6" fill="#1f8560" font-weight="normal" text-anchor="middle" stroke="#1f8560" stroke-width="0.45">21,40 м²</text>
<line x1="592.7" y1="688.8" x2="630.7" y2="688.8" stroke="#6f9a8b" stroke-width="1.1" />
<text transform="translate(611.7,698.1) scale(0.97,1)" font-size="9.6" fill="#1f8560" font-weight="normal" text-anchor="middle" stroke="#1f8560" stroke-width="0.45">23,37 м²</text>
<circle cx="681.7" cy="675" r="10.7" fill="#118a62"/>
<text transform="translate(682.0,680) scale(0.85,1)" font-size="14" fill="#fff" text-anchor="middle">С</text>
<text transform="translate(681.7,696.6) scale(0.97,1)" font-size="9.6" fill="#1f8560" font-weight="normal" text-anchor="middle" stroke="#1f8560" stroke-width="0.45">28,01 м²</text>
<line x1="662.7" y1="700.1" x2="700.7" y2="700.1" stroke="#6f9a8b" stroke-width="1.1" />
<text transform="translate(681.7,709.4) scale(0.97,1)" font-size="9.6" fill="#1f8560" font-weight="normal" text-anchor="middle" stroke="#1f8560" stroke-width="0.45">30,49 м²</text>
<circle cx="837.2" cy="621.7" r="10.7" fill="#118a62"/>
<text transform="translate(837.5,626.7) scale(0.85,1)" font-size="14" fill="#fff" text-anchor="middle">С</text>
<text transform="translate(837.2,643.3) scale(0.97,1)" font-size="9.6" fill="#1f8560" font-weight="normal" text-anchor="middle" stroke="#1f8560" stroke-width="0.45">27,73 м²</text>
<line x1="818.2" y1="646.8" x2="856.2" y2="646.8" stroke="#6f9a8b" stroke-width="1.1" />
<text transform="translate(837.2,656.1) scale(0.97,1)" font-size="9.6" fill="#1f8560" font-weight="normal" text-anchor="middle" stroke="#1f8560" stroke-width="0.45">30,29 м²</text>
<rect x="579.0" y="508.3" width="6.0" height="25.0" fill="#2d4156" />
<rect x="580.1" y="510.3" width="3.8" height="7.0" fill="#fff" />
<rect x="580.1" y="518.8" width="3.8" height="2.5" fill="#fff" />
<rect x="580.1" y="522.8" width="3.8" height="8.5" fill="#fff" />
<rect x="67.5" y="519.0" width="69.2" height="4.3" fill="#2d4156" />
<rect x="68.7" y="520.1" width="5.4" height="2.1" fill="#fff" />
<rect x="75.7" y="520.1" width="2.0" height="2.1" fill="#fff" />
<rect x="79.3" y="520.1" width="6.8" height="2.1" fill="#fff" />
<rect x="67.5" y="628.0" width="55.8" height="4.8" fill="#2d4156" />
<rect x="69.5" y="629.1" width="6.3" height="2.6" fill="#fff" />
<rect x="77.5" y="629.1" width="1.6" height="2.6" fill="#fff" />
<rect x="80.8" y="629.1" width="5.8" height="2.6" fill="#fff" />
<rect x="93.5" y="629.1" width="5.8" height="2.6" fill="#fff" />
<rect x="101.0" y="629.1" width="1.6" height="2.6" fill="#fff" />
<rect x="104.3" y="629.1" width="6.4" height="2.6" fill="#fff" />
<rect x="240.8" y="616.7" width="4.2" height="26.6" fill="#2d4156" />
<rect x="241.9" y="618.7" width="2.0" height="8.0" fill="#fff" />
<rect x="241.9" y="628.2" width="2.0" height="2.5" fill="#fff" />
<rect x="241.9" y="632.2" width="2.0" height="9.0" fill="#fff" />
<rect x="357.5" y="616.7" width="4.2" height="26.6" fill="#2d4156" />
<rect x="358.6" y="618.7" width="2.0" height="8.0" fill="#fff" />
<rect x="358.6" y="628.2" width="2.0" height="2.5" fill="#fff" />
<rect x="358.6" y="632.2" width="2.0" height="9.0" fill="#fff" />
<rect x="407.5" y="605.0" width="4.2" height="23.0" fill="#2d4156" />
<rect x="408.6" y="606.2" width="2.0" height="3.2" fill="#fff" />
<rect x="408.6" y="611.2" width="2.0" height="3.2" fill="#fff" />
<rect x="408.6" y="616.2" width="2.0" height="3.2" fill="#fff" />
<rect x="408.6" y="621.2" width="2.0" height="3.2" fill="#fff" />
<rect x="415.8" y="605.0" width="4.2" height="23.0" fill="#2d4156" />
<rect x="416.9" y="606.2" width="2.0" height="3.2" fill="#fff" />
<rect x="416.9" y="611.2" width="2.0" height="3.2" fill="#fff" />
<rect x="416.9" y="616.2" width="2.0" height="3.2" fill="#fff" />
<rect x="416.9" y="621.2" width="2.0" height="3.2" fill="#fff" />
<rect x="464.5" y="605.0" width="4.5" height="23.0" fill="#2d4156" />
<rect x="465.6" y="606.2" width="2.3" height="3.2" fill="#fff" />
<rect x="465.6" y="611.2" width="2.3" height="3.2" fill="#fff" />
<rect x="465.6" y="616.2" width="2.3" height="3.2" fill="#fff" />
<rect x="465.6" y="621.2" width="2.3" height="3.2" fill="#fff" />
<rect x="530.8" y="611.0" width="5.0" height="19.8" fill="#2d4156" />
<rect x="531.9" y="613.0" width="2.8" height="6.0" fill="#fff" />
<rect x="531.9" y="620.5" width="2.8" height="2.5" fill="#fff" />
<rect x="531.9" y="624.5" width="2.8" height="5.0" fill="#fff" />
<rect x="620.0" y="635.0" width="5.0" height="16.7" fill="#2d4156" />
<rect x="621.1" y="636.2" width="2.8" height="3.2" fill="#fff" />
<rect x="621.1" y="641.2" width="2.8" height="3.2" fill="#fff" />
<rect x="621.1" y="646.2" width="2.8" height="3.2" fill="#fff" />
<rect x="644.0" y="640.8" width="38.0" height="4.2" fill="#2d4156" />
<rect x="645.2" y="641.9" width="3.2" height="2.0" fill="#fff" />
<rect x="650.2" y="641.9" width="3.2" height="2.0" fill="#fff" />
<rect x="655.2" y="641.9" width="3.2" height="2.0" fill="#fff" />
<rect x="660.2" y="641.9" width="3.2" height="2.0" fill="#fff" />
<rect x="665.2" y="641.9" width="3.2" height="2.0" fill="#fff" />
<rect x="670.2" y="641.9" width="3.2" height="2.0" fill="#fff" />
<rect x="675.2" y="641.9" width="3.2" height="2.0" fill="#fff" />
<rect x="690.0" y="641.7" width="5.0" height="15.0" fill="#2d4156" />
<rect x="691.1" y="642.9" width="2.8" height="3.2" fill="#fff" />
<rect x="691.1" y="647.9" width="2.8" height="3.2" fill="#fff" />
<rect x="725.0" y="647.5" width="21.7" height="5.0" fill="#2d4156" />
<rect x="726.2" y="648.6" width="3.2" height="2.8" fill="#fff" />
<rect x="731.2" y="648.6" width="3.2" height="2.8" fill="#fff" />
<rect x="736.2" y="648.6" width="3.2" height="2.8" fill="#fff" />
<rect x="741.2" y="648.6" width="3.2" height="2.8" fill="#fff" />
<rect x="606.7" y="519.0" width="31.6" height="3.5" fill="#2d4156" />
<rect x="608.7" y="520.1" width="4.5" height="1.3" fill="#fff" />
<rect x="614.7" y="520.1" width="1.8" height="1.3" fill="#fff" />
<rect x="618.0" y="520.1" width="5.0" height="1.3" fill="#fff" />
<rect x="266.0" y="509.5" width="21.0" height="9.5" fill="#2d4156" />
<rect x="267.5" y="511.0" width="6.5" height="2.6" fill="#fff" />
<rect x="275.5" y="511.0" width="2.0" height="2.6" fill="#fff" />
<rect x="279.0" y="511.0" width="6.5" height="2.6" fill="#fff" />
<rect x="267.5" y="515.0" width="6.5" height="2.6" fill="#fff" />
<rect x="275.5" y="515.0" width="2.0" height="2.6" fill="#fff" />
<rect x="279.0" y="515.0" width="6.5" height="2.6" fill="#fff" />
<rect x="121.6" y="486.6" width="12.2" height="4.0" fill="#2d4156" />
<rect x="122.8" y="487.7" width="2.4" height="1.8" fill="#fff" />
<rect x="126.8" y="487.7" width="2.4" height="1.8" fill="#fff" />
<rect x="152.8" y="471.7" width="4.0" height="16.9" fill="#2d4156" />
<rect x="153.9" y="472.9" width="1.8" height="3.2" fill="#fff" />
<rect x="153.9" y="477.9" width="1.8" height="3.2" fill="#fff" />
<rect x="153.9" y="482.9" width="1.8" height="3.2" fill="#fff" />
<rect x="297.5" y="605.0" width="4.2" height="23.0" fill="#2d4156" />
<rect x="298.6" y="606.2" width="2.0" height="3.2" fill="#fff" />
<rect x="298.6" y="611.2" width="2.0" height="3.2" fill="#fff" />
<rect x="298.6" y="616.2" width="2.0" height="3.2" fill="#fff" />
<rect x="298.6" y="621.2" width="2.0" height="3.2" fill="#fff" />
<rect x="327.5" y="616.7" width="2.5" height="11.3" fill="#2d4156" />
<rect x="328.6" y="617.9" width="0.3" height="3.2" fill="#fff" />
<rect x="121.7" y="618.0" width="2.5" height="28.7" fill="#2d4156" />
<rect x="122.8" y="619.2" width="0.3" height="3.2" fill="#fff" />
<rect x="122.8" y="624.2" width="0.3" height="3.2" fill="#fff" />
<rect x="122.8" y="629.2" width="0.3" height="3.2" fill="#fff" />
<rect x="122.8" y="634.2" width="0.3" height="3.2" fill="#fff" />
<rect x="122.8" y="639.2" width="0.3" height="3.2" fill="#fff" />
<line x1="95.8" y1="405.8" x2="101.7" y2="415.8" stroke="#2b2b2b" stroke-width="0.9" />
<line x1="133.8" y1="496.7" x2="127.7" y2="508.9" stroke="#2b2b2b" stroke-width="0.9" />
<line x1="133.8" y1="523.8" x2="125.0" y2="536.7" stroke="#2b2b2b" stroke-width="0.9" />
<line x1="119.2" y1="560.0" x2="125.0" y2="572.5" stroke="#2b2b2b" stroke-width="0.9" />
<line x1="291.7" y1="524.2" x2="286.7" y2="535.8" stroke="#2b2b2b" stroke-width="0.9" />
<line x1="318.3" y1="493.3" x2="326.7" y2="480.0" stroke="#2b2b2b" stroke-width="0.9" />
<line x1="123.3" y1="602.5" x2="130.8" y2="615.8" stroke="#2b2b2b" stroke-width="0.9" />
<line x1="130.8" y1="658.3" x2="143.3" y2="665.8" stroke="#2b2b2b" stroke-width="0.9" />
<line x1="235.0" y1="615.0" x2="242.5" y2="600.0" stroke="#2b2b2b" stroke-width="0.9" />
<line x1="219.5" y1="674.0" x2="232.5" y2="666.5" stroke="#2b2b2b" stroke-width="0.9" />
<line x1="345.8" y1="671.7" x2="331.7" y2="665.0" stroke="#2b2b2b" stroke-width="0.9" />
<line x1="350.0" y1="615.0" x2="356.7" y2="601.7" stroke="#2b2b2b" stroke-width="0.9" />
<line x1="446.7" y1="628.3" x2="460.0" y2="635.8" stroke="#2b2b2b" stroke-width="0.9" />
<line x1="471.7" y1="628.3" x2="485.0" y2="635.8" stroke="#2b2b2b" stroke-width="0.9" />
<line x1="446.7" y1="658.3" x2="460.0" y2="665.0" stroke="#2b2b2b" stroke-width="0.9" />
<line x1="483.3" y1="655.0" x2="497.5" y2="663.3" stroke="#2b2b2b" stroke-width="0.9" />
<line x1="646.7" y1="615.8" x2="638.3" y2="625.8" stroke="#2b2b2b" stroke-width="0.9" />
<line x1="530.0" y1="716.7" x2="540.0" y2="710.8" stroke="#2b2b2b" stroke-width="0.9" />
<line x1="638.3" y1="716.7" x2="628.3" y2="711.7" stroke="#2b2b2b" stroke-width="0.9" />
<line x1="358.8" y1="716.6" x2="370.0" y2="711.0" stroke="#2b2b2b" stroke-width="0.9" />
<line x1="246.7" y1="716.7" x2="257.5" y2="710.8" stroke="#2b2b2b" stroke-width="0.9" />
<line x1="105.0" y1="711.7" x2="115.0" y2="717.5" stroke="#2b2b2b" stroke-width="0.9" />
<line x1="136.7" y1="733.3" x2="146.7" y2="727.5" stroke="#2b2b2b" stroke-width="0.9" />
<line x1="338.3" y1="430.0" x2="351.7" y2="423.3" stroke="#2b2b2b" stroke-width="0.9" />
<line x1="565.0" y1="433.3" x2="575.8" y2="427.5" stroke="#2b2b2b" stroke-width="0.9" />
<line x1="586.7" y1="490.0" x2="600.8" y2="481.7" stroke="#2b2b2b" stroke-width="0.9" />
<line x1="600.8" y1="497.5" x2="606.7" y2="508.3" stroke="#2b2b2b" stroke-width="0.9" />
<line x1="412.5" y1="417.5" x2="423.3" y2="433.3" stroke="#2b2b2b" stroke-width="0.9" />
<line x1="466.7" y1="417.5" x2="475.0" y2="433.3" stroke="#2b2b2b" stroke-width="0.9" />
<line x1="360.8" y1="556.7" x2="367.5" y2="568.3" stroke="#2b2b2b" stroke-width="0.9" />
<line x1="367.5" y1="568.3" x2="360.0" y2="583.0" stroke="#2b2b2b" stroke-width="0.9" />
<line x1="504.2" y1="556.7" x2="496.7" y2="568.3" stroke="#2b2b2b" stroke-width="0.9" />
<line x1="496.7" y1="568.3" x2="504.0" y2="583.0" stroke="#2b2b2b" stroke-width="0.9" />
<line x1="186.4" y1="505.0" x2="194.5" y2="490.0" stroke="#2b2b2b" stroke-width="0.9" />
<line x1="298.0" y1="549.0" x2="310.0" y2="552.0" stroke="#2b2b2b" stroke-width="0.9" />
<line x1="151.0" y1="551.0" x2="160.0" y2="553.0" stroke="#2b2b2b" stroke-width="0.9" />
<line x1="235.0" y1="597.0" x2="224.0" y2="604.0" stroke="#2b2b2b" stroke-width="0.9" />
<line x1="330.0" y1="598.0" x2="341.0" y2="603.0" stroke="#2b2b2b" stroke-width="0.9" />
<line x1="451.0" y1="598.0" x2="459.0" y2="603.0" stroke="#2b2b2b" stroke-width="0.9" />
<line x1="519.0" y1="598.0" x2="527.0" y2="604.0" stroke="#2b2b2b" stroke-width="0.9" />
<line x1="610.0" y1="551.0" x2="620.0" y2="547.0" stroke="#2b2b2b" stroke-width="0.9" />
<line x1="689.0" y1="551.0" x2="697.0" y2="555.0" stroke="#2b2b2b" stroke-width="0.9" />
<line x1="714.0" y1="553.0" x2="707.0" y2="550.0" stroke="#2b2b2b" stroke-width="0.9" />
<line x1="712.0" y1="598.0" x2="705.0" y2="603.0" stroke="#2b2b2b" stroke-width="0.9" />
<line x1="734.0" y1="597.0" x2="742.0" y2="602.0" stroke="#2b2b2b" stroke-width="0.9" />
<line x1="757.0" y1="561.0" x2="763.0" y2="566.0" stroke="#2b2b2b" stroke-width="0.9" />
<line x1="717.0" y1="655.0" x2="720.0" y2="663.0" stroke="#2b2b2b" stroke-width="0.9" />
<line x1="755.0" y1="668.0" x2="757.0" y2="660.0" stroke="#2b2b2b" stroke-width="0.9" />
<line x1="710.0" y1="688.0" x2="717.0" y2="700.0" stroke="#2b2b2b" stroke-width="0.9" />
<rect x="133.0" y="541.0" width="4.0" height="7.0" fill="#2d4156" />
<rect x="128.0" y="547.0" width="22.8" height="4.2" fill="#2d4156" />
<rect x="129.2" y="548.1" width="2.9" height="2.0" fill="#fff" />
<rect x="133.7" y="548.1" width="2.9" height="2.0" fill="#fff" />
<rect x="138.2" y="548.1" width="2.9" height="2.0" fill="#fff" />
<rect x="142.7" y="548.1" width="2.9" height="2.0" fill="#fff" />
<text transform="translate(704,840)" font-size="46" fill="#fbfbfb" textLength="133" lengthAdjust="spacingAndGlyphs">циан</text>
<path d="M658,826 L683,813 M672,812 L682,820" stroke="#f7f7f7" stroke-width="2" fill="none"/>
<text transform="translate(259.0,572.4) scale(0.86,1)" font-size="9.6" fill="#3a3a3a" font-weight="normal" text-anchor="middle" stroke="#3a3a3a" stroke-width="0.22">Коридор</text>
<text transform="translate(561.7,573.4) scale(0.86,1)" font-size="9.6" fill="#3a3a3a" font-weight="normal" text-anchor="middle" stroke="#3a3a3a" stroke-width="0.22">Коридор</text>
<rect x="637.5" y="543.5" width="12.5" height="7.5" fill="#2d4156" />
<circle cx="644" cy="548.2" r="1.3" fill="#fff"/></svg>
</body></html>
